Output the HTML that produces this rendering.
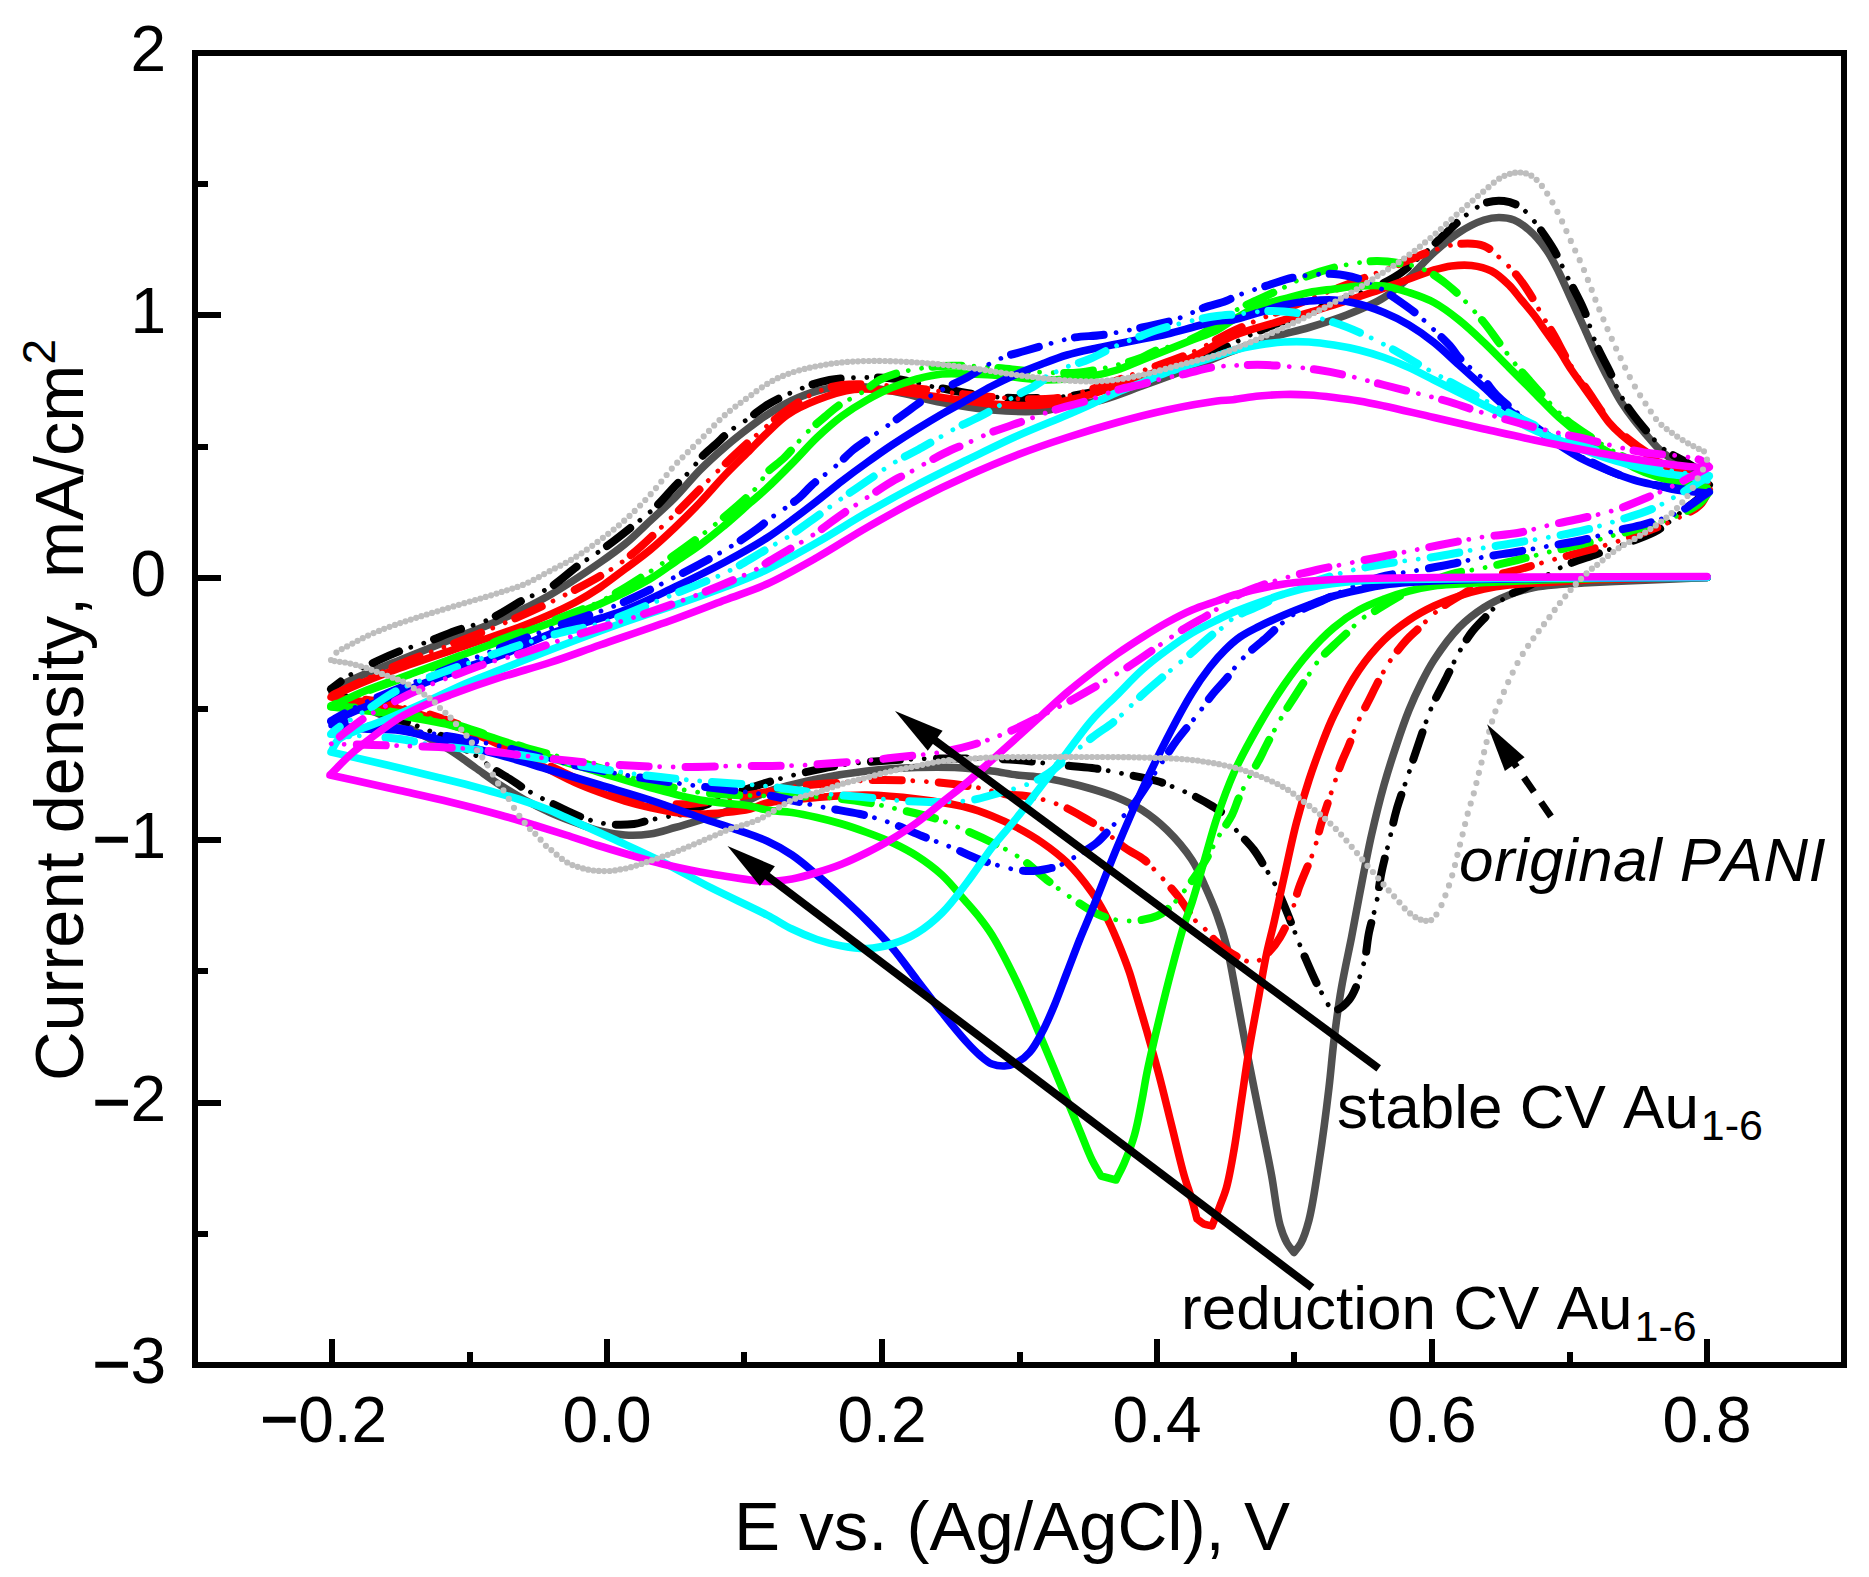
<!DOCTYPE html>
<html><head><meta charset="utf-8"><title>CV</title>
<style>html,body{margin:0;padding:0;background:#fff}svg{display:block}text{font-kerning:none;font-family:"Liberation Sans",sans-serif;fill:#000}</style></head><body>
<svg width="1869" height="1577" viewBox="0 0 1869 1577">
<rect width="1869" height="1577" fill="#fff"/>
<path d="M1707.0 577.5C1696.3 578.0 1687.3 578.5 1675.0 579.0C1658.1 579.7 1631.7 580.7 1615.0 581.5C1603.0 582.0 1593.8 582.5 1584.0 583.0C1575.2 583.5 1567.3 583.8 1559.0 584.5C1550.7 585.3 1542.3 585.8 1534.0 587.5C1525.6 589.3 1517.2 591.7 1509.0 595.0C1500.5 598.4 1492.1 602.3 1484.0 607.5C1475.4 613.0 1466.9 619.5 1459.0 627.5C1450.1 636.6 1440.6 649.9 1434.0 660.0C1428.8 668.0 1425.5 674.5 1421.5 682.5C1417.2 691.1 1413.0 700.2 1409.0 710.0C1404.6 720.9 1400.5 732.9 1396.5 745.0C1392.2 757.8 1388.0 770.9 1384.0 785.0C1379.6 800.7 1375.5 817.4 1371.5 835.0C1367.1 854.6 1362.6 879.0 1359.0 897.5C1356.1 912.3 1354.2 923.4 1351.5 937.5C1348.4 953.2 1344.4 970.6 1341.5 987.5C1338.5 1004.7 1336.1 1022.9 1334.0 1040.0C1332.0 1056.2 1331.1 1069.9 1329.0 1087.5C1326.4 1109.7 1322.6 1139.2 1319.0 1162.5C1315.9 1183.0 1312.8 1205.3 1309.0 1220.0C1306.5 1229.5 1304.1 1237.2 1301.0 1243.0C1298.9 1247.1 1296.3 1249.3 1294.0 1252.5C1291.7 1249.3 1289.1 1246.8 1287.0 1243.0C1284.3 1238.1 1282.1 1232.6 1280.0 1225.0C1276.6 1212.6 1274.7 1192.6 1271.5 1175.0C1267.9 1155.3 1263.2 1133.3 1259.0 1112.5C1254.8 1091.7 1250.6 1071.2 1246.5 1050.0C1242.3 1027.9 1237.6 1001.3 1234.0 982.5C1231.4 968.9 1229.9 958.9 1227.0 947.5C1224.2 936.4 1220.8 925.5 1217.0 915.0C1213.3 904.7 1208.8 894.5 1204.5 885.0C1200.5 876.2 1197.5 868.4 1192.0 860.0C1185.5 850.1 1175.8 838.6 1167.0 830.0C1159.0 822.2 1150.6 815.5 1142.0 810.0C1133.9 804.8 1125.5 801.0 1117.0 797.5C1108.8 794.1 1100.4 791.5 1092.0 789.0C1083.7 786.5 1075.4 784.4 1067.0 782.5C1058.7 780.6 1050.4 778.8 1042.0 777.5C1033.7 776.3 1025.3 776.1 1017.0 775.0C1008.7 773.9 1001.2 772.2 992.0 771.0C980.8 769.6 967.0 768.1 954.5 767.5C942.0 766.9 930.4 767.0 917.0 767.5C901.5 768.0 883.6 769.1 867.0 771.0C850.3 772.9 833.6 775.5 817.0 779.0C800.2 782.5 782.7 786.3 767.0 792.0C752.1 797.4 737.3 807.1 725.0 812.0C715.7 815.7 708.3 817.4 700.0 820.0C691.7 822.6 683.4 825.2 675.0 827.5C666.7 829.8 658.4 832.8 650.0 834.0C641.7 835.2 633.3 835.5 625.0 835.0C616.6 834.5 608.2 833.0 600.0 831.0C591.6 828.9 583.3 825.6 575.0 822.5C566.6 819.4 558.3 816.2 550.0 812.5C541.6 808.7 533.2 804.5 525.0 800.0C516.6 795.4 508.2 790.3 500.0 785.0C491.6 779.5 483.3 773.3 475.0 767.5C466.7 761.7 459.7 756.0 450.0 750.0C437.6 742.4 420.0 733.6 406.0 726.6C393.5 720.4 380.9 714.9 370.0 710.0C360.9 705.9 351.9 702.4 345.0 699.0C339.9 696.5 336.3 694.3 332.0 692.0C336.3 689.0 338.9 686.3 345.0 683.0C356.8 676.5 382.1 667.3 400.0 660.0C417.0 653.0 433.3 646.7 450.0 640.0C466.7 633.3 483.5 627.4 500.0 620.0C516.8 612.4 533.6 604.4 550.0 595.0C566.9 585.3 586.3 572.0 600.0 562.5C609.9 555.6 616.8 550.7 625.0 544.0C633.5 537.0 641.7 528.7 650.0 521.0C658.4 513.2 666.8 505.8 675.0 497.5C683.5 488.9 691.5 478.6 700.0 470.0C708.2 461.8 716.5 454.3 725.0 447.0C733.2 440.0 742.5 432.7 750.0 427.0C755.9 422.6 759.9 419.4 766.0 415.5C773.5 410.6 783.3 404.7 792.0 400.5C800.3 396.6 808.0 393.4 817.0 391.0C827.0 388.4 837.9 386.2 849.5 386.0C862.7 385.8 877.3 388.5 892.0 391.0C908.1 393.8 925.3 399.3 942.0 402.5C958.6 405.7 975.3 408.6 992.0 410.0C1008.6 411.4 1028.2 412.2 1042.0 411.0C1051.8 410.1 1058.0 407.7 1067.0 406.0C1077.7 404.0 1090.1 403.1 1102.0 400.0C1115.0 396.6 1127.9 391.1 1142.0 386.0C1157.8 380.3 1176.2 373.6 1192.0 367.5C1206.4 361.9 1219.5 356.1 1233.0 351.0C1246.0 346.1 1258.7 341.5 1271.5 337.5C1284.0 333.6 1296.6 331.2 1309.0 327.5C1321.6 323.7 1334.1 319.9 1346.5 315.0C1359.1 310.0 1373.1 304.3 1384.0 297.5C1393.6 291.6 1400.9 284.8 1409.0 277.5C1417.6 269.8 1425.4 260.2 1434.0 252.5C1442.1 245.2 1450.4 238.0 1459.0 232.5C1467.1 227.3 1476.6 222.4 1484.0 220.0C1489.5 218.2 1494.0 217.5 1499.0 217.5C1504.0 217.5 1509.2 218.1 1514.0 220.0C1519.2 222.1 1524.1 225.7 1529.0 230.0C1535.0 235.2 1541.5 242.9 1546.5 250.0C1551.4 257.0 1555.0 264.5 1559.0 272.5C1563.3 281.1 1567.3 290.8 1571.5 300.0C1575.7 309.2 1579.8 318.3 1584.0 327.5C1588.2 336.7 1592.2 346.1 1596.5 355.0C1600.6 363.6 1604.7 371.9 1609.0 380.0C1613.1 387.7 1617.1 395.6 1621.5 402.5C1625.5 408.8 1629.7 414.5 1634.0 420.0C1638.1 425.3 1642.3 430.1 1646.5 435.0C1650.6 439.8 1654.7 444.9 1659.0 449.0C1663.0 452.8 1666.4 455.6 1671.5 459.0C1678.2 463.5 1689.9 469.3 1696.5 472.5C1700.7 474.5 1703.5 475.5 1707.0 477.0" fill="none" stroke="#505050" stroke-width="7.6" stroke-linejoin="round" stroke-linecap="round"/>
<path d="M1709.0 485.0C1706.0 489.0 1703.9 493.0 1700.0 497.0C1694.9 502.3 1686.8 507.6 1680.0 513.0C1672.9 518.6 1666.1 525.2 1658.0 530.0C1649.5 535.0 1639.8 538.1 1630.0 542.0C1619.5 546.2 1608.0 550.0 1597.0 554.0C1586.0 558.0 1575.2 560.8 1564.0 566.0C1551.3 571.8 1535.6 582.7 1525.0 588.0C1518.0 591.5 1511.6 593.1 1507.0 596.0C1503.8 598.1 1502.3 599.9 1499.5 602.5C1495.7 606.1 1491.0 611.2 1486.5 616.0C1481.6 621.2 1476.0 626.5 1471.5 632.5C1466.8 638.7 1463.0 645.4 1459.0 652.5C1454.6 660.3 1450.9 668.8 1446.5 677.5C1441.7 687.0 1436.0 697.0 1431.5 707.5C1426.8 718.6 1422.9 731.3 1419.0 742.5C1415.4 752.9 1412.5 761.9 1409.0 772.5C1405.1 784.3 1399.8 798.4 1396.5 810.0C1393.7 819.8 1392.3 827.8 1390.0 837.5C1387.4 848.5 1383.8 861.2 1381.5 872.5C1379.4 882.8 1378.6 892.5 1376.5 902.5C1374.4 912.5 1371.1 922.5 1369.0 932.5C1366.9 942.5 1366.9 952.1 1364.0 962.5C1360.6 974.5 1355.5 992.0 1349.0 1000.0C1344.7 1005.3 1338.4 1010.8 1334.0 1010.0C1329.2 1009.1 1325.7 999.7 1321.5 992.5C1315.7 982.6 1308.9 966.3 1304.0 955.0C1300.1 945.9 1297.3 938.3 1294.0 930.0C1290.7 921.7 1287.4 913.1 1284.0 905.0C1280.7 897.3 1277.3 888.8 1274.0 882.5C1271.5 877.6 1269.3 874.6 1266.5 870.0C1262.9 864.1 1259.0 856.7 1254.0 850.0C1248.4 842.5 1239.0 833.9 1234.0 827.5C1230.6 823.1 1229.4 819.4 1226.0 816.0C1222.2 812.2 1217.2 809.3 1212.0 806.0C1206.0 802.2 1198.8 798.3 1192.0 795.0C1185.2 791.7 1177.3 788.5 1171.0 786.0C1165.9 784.0 1162.7 782.6 1157.0 781.0C1148.5 778.6 1135.3 776.2 1124.5 774.0C1113.7 771.8 1102.9 769.5 1092.0 768.0C1081.2 766.5 1071.1 766.2 1059.5 765.0C1046.3 763.6 1029.3 761.0 1017.0 760.0C1007.6 759.3 1002.6 759.2 992.0 759.0C973.7 758.6 941.3 758.1 917.0 759.0C893.9 759.9 869.7 761.4 849.5 764.0C832.9 766.2 818.2 769.4 804.5 772.5C792.7 775.1 781.7 778.2 772.0 781.0C763.9 783.3 757.1 785.6 750.0 788.0C743.2 790.3 737.2 792.3 730.0 795.0C721.5 798.2 711.7 802.7 702.5 806.0C693.4 809.3 684.0 812.6 675.0 815.0C666.5 817.2 657.4 818.3 650.0 820.0C644.1 821.3 640.1 823.3 634.0 824.0C626.3 824.9 616.1 825.1 607.5 824.0C599.0 822.9 591.2 820.6 582.5 817.5C572.2 813.8 560.1 807.5 550.0 802.5C541.0 798.0 532.2 793.3 525.0 789.0C519.3 785.6 515.0 782.2 510.0 779.0C505.0 775.9 500.3 773.5 495.0 770.0C488.7 765.8 482.2 759.8 475.0 755.0C467.3 749.8 458.9 744.6 450.0 740.0C440.6 735.2 430.8 731.4 420.0 727.0C407.7 722.0 392.8 717.2 380.0 712.0C367.9 707.1 353.9 701.5 345.0 697.0C339.2 694.1 335.7 691.7 331.0 689.0C337.3 684.3 342.9 679.4 350.0 675.0C358.0 670.0 368.3 665.1 377.0 661.0C384.9 657.2 392.0 654.1 400.0 651.0C408.6 647.7 418.0 645.3 427.0 642.0C436.3 638.6 445.1 634.6 455.0 631.0C466.0 627.0 478.6 624.2 490.0 619.0C501.9 613.6 514.2 604.6 525.0 599.0C533.9 594.4 541.6 592.6 550.0 587.5C559.6 581.6 569.5 571.9 579.0 565.0C587.8 558.6 596.2 553.9 605.0 547.5C614.5 540.6 625.2 532.1 634.0 525.0C641.6 518.9 648.3 513.9 655.0 507.5C662.0 500.9 668.8 492.5 675.0 486.0C680.3 480.5 685.3 476.1 690.0 471.0C694.5 466.1 698.1 460.6 702.5 456.0C706.8 451.6 711.5 448.1 716.0 444.0C720.6 439.8 724.7 435.2 730.0 431.0C735.9 426.3 743.6 422.0 750.0 417.5C755.9 413.3 760.2 409.1 767.0 405.0C776.0 399.6 789.1 393.3 800.0 389.0C810.0 385.1 819.0 381.9 829.5 380.0C841.1 377.9 855.2 377.6 867.0 377.5C877.6 377.4 886.3 377.6 897.0 379.0C909.4 380.6 922.0 384.8 937.0 387.5C956.0 391.0 980.1 396.1 1002.0 397.5C1024.2 399.0 1049.9 398.1 1069.5 396.0C1084.8 394.3 1096.6 391.5 1110.0 388.0C1123.5 384.5 1136.7 379.6 1150.0 375.0C1163.4 370.3 1177.1 364.7 1190.0 360.0C1201.9 355.6 1213.1 352.3 1224.5 347.5C1236.1 342.6 1246.9 336.2 1259.0 331.0C1272.0 325.4 1285.6 320.4 1300.0 315.0C1315.8 309.1 1334.0 303.4 1350.0 297.0C1365.2 290.9 1381.6 285.0 1394.0 277.5C1404.3 271.3 1411.6 264.1 1420.0 257.0C1428.3 249.9 1436.9 241.5 1444.0 235.0C1449.6 229.8 1454.0 225.3 1459.0 221.0C1463.7 217.0 1468.2 213.2 1473.0 210.0C1477.4 207.1 1481.5 204.0 1486.5 202.5C1491.8 200.9 1498.5 200.3 1504.0 201.0C1509.3 201.6 1514.8 203.6 1519.0 206.0C1522.6 208.1 1524.8 210.7 1528.0 214.0C1532.2 218.5 1537.2 225.1 1541.5 231.0C1545.9 237.1 1549.9 242.8 1554.0 250.0C1559.0 258.7 1564.0 270.0 1569.0 280.0C1574.0 290.0 1579.5 299.5 1584.0 310.0C1588.7 321.1 1592.0 334.4 1596.5 345.0C1600.4 354.2 1604.7 361.2 1609.0 370.0C1613.8 379.8 1618.3 391.6 1624.0 401.0C1629.3 409.8 1635.0 417.1 1641.5 425.0C1648.5 433.5 1657.1 443.7 1665.0 450.0C1671.3 455.0 1678.0 457.2 1684.0 461.0C1689.6 464.6 1695.7 467.7 1700.0 472.0C1703.9 475.8 1706.0 480.7 1709.0 485.0" fill="none" stroke="#000000" stroke-width="8" stroke-linecap="round" stroke-linejoin="round" stroke-dasharray="29 37" stroke-dashoffset="0"/>
<path d="M1709.0 485.0C1706.0 489.0 1703.9 493.0 1700.0 497.0C1694.9 502.3 1686.8 507.6 1680.0 513.0C1672.9 518.6 1666.1 525.2 1658.0 530.0C1649.5 535.0 1639.8 538.1 1630.0 542.0C1619.5 546.2 1608.0 550.0 1597.0 554.0C1586.0 558.0 1575.2 560.8 1564.0 566.0C1551.3 571.8 1535.6 582.7 1525.0 588.0C1518.0 591.5 1511.6 593.1 1507.0 596.0C1503.8 598.1 1502.3 599.9 1499.5 602.5C1495.7 606.1 1491.0 611.2 1486.5 616.0C1481.6 621.2 1476.0 626.5 1471.5 632.5C1466.8 638.7 1463.0 645.4 1459.0 652.5C1454.6 660.3 1450.9 668.8 1446.5 677.5C1441.7 687.0 1436.0 697.0 1431.5 707.5C1426.8 718.6 1422.9 731.3 1419.0 742.5C1415.4 752.9 1412.5 761.9 1409.0 772.5C1405.1 784.3 1399.8 798.4 1396.5 810.0C1393.7 819.8 1392.3 827.8 1390.0 837.5C1387.4 848.5 1383.8 861.2 1381.5 872.5C1379.4 882.8 1378.6 892.5 1376.5 902.5C1374.4 912.5 1371.1 922.5 1369.0 932.5C1366.9 942.5 1366.9 952.1 1364.0 962.5C1360.6 974.5 1355.5 992.0 1349.0 1000.0C1344.7 1005.3 1338.4 1010.8 1334.0 1010.0C1329.2 1009.1 1325.7 999.7 1321.5 992.5C1315.7 982.6 1308.9 966.3 1304.0 955.0C1300.1 945.9 1297.3 938.3 1294.0 930.0C1290.7 921.7 1287.4 913.1 1284.0 905.0C1280.7 897.3 1277.3 888.8 1274.0 882.5C1271.5 877.6 1269.3 874.6 1266.5 870.0C1262.9 864.1 1259.0 856.7 1254.0 850.0C1248.4 842.5 1239.0 833.9 1234.0 827.5C1230.6 823.1 1229.4 819.4 1226.0 816.0C1222.2 812.2 1217.2 809.3 1212.0 806.0C1206.0 802.2 1198.8 798.3 1192.0 795.0C1185.2 791.7 1177.3 788.5 1171.0 786.0C1165.9 784.0 1162.7 782.6 1157.0 781.0C1148.5 778.6 1135.3 776.2 1124.5 774.0C1113.7 771.8 1102.9 769.5 1092.0 768.0C1081.2 766.5 1071.1 766.2 1059.5 765.0C1046.3 763.6 1029.3 761.0 1017.0 760.0C1007.6 759.3 1002.6 759.2 992.0 759.0C973.7 758.6 941.3 758.1 917.0 759.0C893.9 759.9 869.7 761.4 849.5 764.0C832.9 766.2 818.2 769.4 804.5 772.5C792.7 775.1 781.7 778.2 772.0 781.0C763.9 783.3 757.1 785.6 750.0 788.0C743.2 790.3 737.2 792.3 730.0 795.0C721.5 798.2 711.7 802.7 702.5 806.0C693.4 809.3 684.0 812.6 675.0 815.0C666.5 817.2 657.4 818.3 650.0 820.0C644.1 821.3 640.1 823.3 634.0 824.0C626.3 824.9 616.1 825.1 607.5 824.0C599.0 822.9 591.2 820.6 582.5 817.5C572.2 813.8 560.1 807.5 550.0 802.5C541.0 798.0 532.2 793.3 525.0 789.0C519.3 785.6 515.0 782.2 510.0 779.0C505.0 775.9 500.3 773.5 495.0 770.0C488.7 765.8 482.2 759.8 475.0 755.0C467.3 749.8 458.9 744.6 450.0 740.0C440.6 735.2 430.8 731.4 420.0 727.0C407.7 722.0 392.8 717.2 380.0 712.0C367.9 707.1 353.9 701.5 345.0 697.0C339.2 694.1 335.7 691.7 331.0 689.0C337.3 684.3 342.9 679.4 350.0 675.0C358.0 670.0 368.3 665.1 377.0 661.0C384.9 657.2 392.0 654.1 400.0 651.0C408.6 647.7 418.0 645.3 427.0 642.0C436.3 638.6 445.1 634.6 455.0 631.0C466.0 627.0 478.6 624.2 490.0 619.0C501.9 613.6 514.2 604.6 525.0 599.0C533.9 594.4 541.6 592.6 550.0 587.5C559.6 581.6 569.5 571.9 579.0 565.0C587.8 558.6 596.2 553.9 605.0 547.5C614.5 540.6 625.2 532.1 634.0 525.0C641.6 518.9 648.3 513.9 655.0 507.5C662.0 500.9 668.8 492.5 675.0 486.0C680.3 480.5 685.3 476.1 690.0 471.0C694.5 466.1 698.1 460.6 702.5 456.0C706.8 451.6 711.5 448.1 716.0 444.0C720.6 439.8 724.7 435.2 730.0 431.0C735.9 426.3 743.6 422.0 750.0 417.5C755.9 413.3 760.2 409.1 767.0 405.0C776.0 399.6 789.1 393.3 800.0 389.0C810.0 385.1 819.0 381.9 829.5 380.0C841.1 377.9 855.2 377.6 867.0 377.5C877.6 377.4 886.3 377.6 897.0 379.0C909.4 380.6 922.0 384.8 937.0 387.5C956.0 391.0 980.1 396.1 1002.0 397.5C1024.2 399.0 1049.9 398.1 1069.5 396.0C1084.8 394.3 1096.6 391.5 1110.0 388.0C1123.5 384.5 1136.7 379.6 1150.0 375.0C1163.4 370.3 1177.1 364.7 1190.0 360.0C1201.9 355.6 1213.1 352.3 1224.5 347.5C1236.1 342.6 1246.9 336.2 1259.0 331.0C1272.0 325.4 1285.6 320.4 1300.0 315.0C1315.8 309.1 1334.0 303.4 1350.0 297.0C1365.2 290.9 1381.6 285.0 1394.0 277.5C1404.3 271.3 1411.6 264.1 1420.0 257.0C1428.3 249.9 1436.9 241.5 1444.0 235.0C1449.6 229.8 1454.0 225.3 1459.0 221.0C1463.7 217.0 1468.2 213.2 1473.0 210.0C1477.4 207.1 1481.5 204.0 1486.5 202.5C1491.8 200.9 1498.5 200.3 1504.0 201.0C1509.3 201.6 1514.8 203.6 1519.0 206.0C1522.6 208.1 1524.8 210.7 1528.0 214.0C1532.2 218.5 1537.2 225.1 1541.5 231.0C1545.9 237.1 1549.9 242.8 1554.0 250.0C1559.0 258.7 1564.0 270.0 1569.0 280.0C1574.0 290.0 1579.5 299.5 1584.0 310.0C1588.7 321.1 1592.0 334.4 1596.5 345.0C1600.4 354.2 1604.7 361.2 1609.0 370.0C1613.8 379.8 1618.3 391.6 1624.0 401.0C1629.3 409.8 1635.0 417.1 1641.5 425.0C1648.5 433.5 1657.1 443.7 1665.0 450.0C1671.3 455.0 1678.0 457.2 1684.0 461.0C1689.6 464.6 1695.7 467.7 1700.0 472.0C1703.9 475.8 1706.0 480.7 1709.0 485.0" fill="none" stroke="#000000" stroke-width="4.8" stroke-linecap="round" stroke-dasharray="0.01 13.5 0.01 52.48" stroke-dashoffset="-41.5"/>
<path d="M1707.0 577.5C1671.3 578.2 1628.1 578.5 1600.0 579.5C1581.8 580.2 1570.1 581.1 1555.0 582.0C1539.7 582.9 1522.0 583.5 1509.0 585.0C1499.4 586.1 1492.3 587.2 1484.0 589.0C1475.6 590.8 1467.3 593.2 1459.0 596.0C1450.6 598.9 1442.2 602.1 1434.0 606.0C1425.5 610.0 1417.1 614.5 1409.0 620.0C1400.4 625.8 1392.0 632.2 1384.0 640.0C1375.2 648.6 1366.8 658.6 1359.0 670.0C1350.0 683.1 1340.6 701.3 1334.0 715.0C1328.7 725.8 1325.5 734.6 1321.5 745.0C1317.2 756.2 1313.0 767.7 1309.0 780.0C1304.6 793.4 1300.4 807.4 1296.5 822.5C1292.0 839.6 1287.9 860.1 1284.0 877.5C1280.5 893.2 1277.1 908.8 1274.0 922.5C1271.4 933.9 1268.9 942.8 1266.5 954.0C1263.8 966.7 1261.7 980.3 1259.0 995.0C1255.9 1012.0 1252.0 1032.1 1249.0 1050.0C1246.2 1067.0 1244.0 1083.3 1241.5 1100.0C1239.0 1116.7 1236.7 1134.6 1234.0 1150.0C1231.7 1163.4 1229.4 1177.1 1226.5 1187.5C1224.4 1195.1 1221.9 1200.6 1219.5 1207.0C1217.1 1213.4 1214.5 1219.7 1212.0 1226.0C1209.3 1225.3 1206.5 1225.1 1204.0 1224.0C1201.5 1222.8 1199.3 1220.7 1197.0 1219.0C1195.3 1212.7 1194.0 1206.7 1192.0 1200.0C1189.7 1192.2 1186.8 1184.8 1184.0 1175.0C1180.1 1161.2 1175.7 1141.7 1171.5 1125.0C1167.3 1108.3 1163.3 1091.2 1159.0 1075.0C1154.9 1059.6 1150.7 1044.8 1146.5 1030.0C1142.4 1015.6 1137.1 998.1 1134.0 987.5C1132.1 981.2 1131.5 978.4 1129.5 972.5C1126.5 963.7 1121.3 950.3 1117.0 940.0C1113.0 930.5 1108.9 921.3 1104.5 913.0C1100.5 905.6 1097.2 899.8 1092.0 892.5C1085.4 883.2 1075.8 871.1 1067.0 862.5C1059.0 854.7 1050.5 848.4 1042.0 842.5C1033.9 836.8 1025.5 832.0 1017.0 827.5C1008.8 823.2 1000.4 819.4 992.0 816.0C983.8 812.7 976.9 810.0 967.0 807.5C953.3 804.0 933.7 801.1 917.0 799.0C900.4 796.9 883.7 795.2 867.0 795.0C850.3 794.8 833.6 796.2 817.0 797.5C800.3 798.8 779.2 800.2 767.0 803.0C759.7 804.7 756.3 807.5 750.0 809.0C742.5 810.8 733.3 811.7 725.0 812.5C716.7 813.3 708.3 814.0 700.0 814.0C691.7 814.0 683.3 813.6 675.0 812.5C666.6 811.4 658.3 809.4 650.0 807.5C641.6 805.6 633.3 803.5 625.0 801.0C616.6 798.5 608.3 795.6 600.0 792.5C591.6 789.4 583.3 786.2 575.0 782.5C566.6 778.7 559.8 774.9 550.0 770.0C536.2 763.1 515.3 752.1 500.0 745.0C487.4 739.2 477.1 734.7 465.0 730.0C452.2 725.0 435.7 719.4 425.0 716.0C418.0 713.8 414.5 712.7 407.5 711.0C397.4 708.5 381.3 705.1 370.0 703.0C360.8 701.3 352.1 700.1 345.0 699.0C339.7 698.2 335.7 697.7 331.0 697.0C337.3 694.0 342.1 691.4 350.0 688.0C362.6 682.5 381.6 674.8 400.0 668.0C422.4 659.7 452.5 650.2 475.0 642.5C493.4 636.2 508.5 631.6 525.0 625.0C541.8 618.3 561.4 609.6 575.0 602.5C584.9 597.3 591.8 593.0 600.0 587.5C608.5 581.8 616.7 575.2 625.0 569.0C633.4 562.7 641.8 556.8 650.0 550.0C658.5 543.0 666.8 535.3 675.0 527.5C683.4 519.5 691.8 511.1 700.0 502.5C708.4 493.6 716.6 483.9 725.0 475.0C733.2 466.4 742.5 457.5 750.0 450.0C756.2 443.8 761.0 438.7 767.0 433.0C773.3 427.0 779.3 420.3 787.0 415.0C795.7 409.1 806.3 404.2 817.0 400.0C828.5 395.5 841.5 391.0 854.0 389.5C866.5 388.0 878.5 389.9 892.0 391.0C907.6 392.3 925.3 395.3 942.0 397.5C958.7 399.7 975.3 402.8 992.0 404.0C1008.6 405.2 1026.6 406.4 1042.0 405.0C1055.5 403.8 1067.1 400.6 1079.5 397.5C1092.1 394.3 1104.5 390.1 1117.0 386.0C1129.6 381.8 1142.0 377.2 1154.5 372.5C1167.0 367.7 1179.4 363.3 1192.0 357.5C1205.5 351.3 1218.3 342.1 1233.0 336.0C1248.8 329.4 1267.1 325.2 1284.0 320.0C1300.7 314.9 1318.6 309.9 1334.0 305.0C1347.4 300.7 1359.0 296.8 1371.5 292.5C1384.0 288.2 1397.8 283.0 1409.0 279.0C1418.2 275.7 1426.3 272.2 1434.0 270.0C1440.3 268.2 1445.4 266.8 1451.5 266.0C1457.9 265.2 1464.9 264.7 1471.5 265.5C1478.2 266.3 1485.4 267.9 1491.5 271.0C1497.9 274.3 1503.9 280.0 1509.0 285.0C1513.8 289.7 1517.3 295.0 1521.5 300.0C1525.7 305.0 1529.9 309.7 1534.0 315.0C1538.3 320.5 1542.3 326.7 1546.5 332.5C1550.7 338.3 1554.9 343.9 1559.0 350.0C1563.3 356.4 1567.2 363.6 1571.5 370.0C1575.6 376.1 1579.8 381.7 1584.0 387.5C1588.2 393.3 1592.3 399.2 1596.5 405.0C1600.7 410.8 1604.6 417.3 1609.0 422.5C1613.0 427.2 1617.2 431.2 1621.5 435.0C1625.6 438.6 1629.0 441.3 1634.0 445.0C1640.8 450.1 1650.5 457.4 1659.0 462.5C1667.2 467.4 1675.7 471.5 1684.0 475.0C1691.7 478.3 1699.3 480.3 1707.0 483.0" fill="none" stroke="#ff0000" stroke-width="7.6" stroke-linejoin="round" stroke-linecap="round"/>
<path d="M1709.0 490.0C1706.0 495.0 1704.4 500.6 1700.0 505.0C1694.7 510.3 1685.9 514.0 1678.0 518.0C1669.4 522.4 1659.9 526.2 1650.0 530.0C1639.3 534.2 1627.1 538.4 1616.0 542.0C1605.5 545.4 1595.5 548.0 1585.0 551.0C1574.2 554.0 1562.9 557.0 1552.0 560.0C1541.4 563.0 1530.5 566.2 1520.5 569.0C1511.6 571.5 1503.3 572.6 1495.0 576.0C1486.4 579.5 1478.6 585.0 1470.0 590.0C1460.8 595.4 1450.3 600.9 1441.5 607.5C1433.0 613.9 1424.4 623.0 1418.0 629.0C1413.5 633.2 1410.6 635.5 1406.5 640.0C1401.1 646.0 1394.1 654.8 1389.0 662.5C1384.2 669.8 1380.1 678.2 1376.5 685.0C1373.6 690.5 1371.8 694.4 1369.0 700.0C1365.4 707.3 1360.0 717.0 1356.5 725.0C1353.5 732.0 1351.6 738.6 1349.0 745.0C1346.6 751.1 1344.0 756.1 1341.5 762.5C1338.6 770.0 1336.0 778.5 1333.0 787.5C1329.4 798.2 1324.8 811.5 1321.5 822.5C1318.6 832.2 1317.3 840.2 1314.0 850.0C1310.1 861.6 1303.0 876.2 1299.0 887.5C1295.8 896.6 1294.6 904.3 1291.5 912.5C1288.3 920.9 1284.2 930.5 1280.0 937.5C1276.6 943.2 1273.3 947.8 1269.0 952.0C1264.7 956.2 1259.1 961.7 1254.0 962.5C1249.4 963.2 1244.5 960.0 1240.0 958.0C1235.3 955.9 1230.8 953.0 1226.5 950.0C1222.3 947.0 1218.2 943.6 1214.5 940.0C1210.7 936.3 1207.3 931.1 1204.0 928.0C1201.5 925.7 1199.7 925.3 1197.0 922.5C1191.7 917.0 1183.9 903.6 1177.0 895.0C1170.5 887.0 1163.0 878.8 1157.0 872.5C1152.4 867.6 1149.4 863.9 1144.5 860.0C1138.8 855.5 1131.2 852.3 1124.5 847.5C1117.0 842.1 1108.7 833.9 1102.0 829.0C1096.9 825.3 1093.5 823.2 1088.0 820.0C1080.7 815.7 1071.2 809.8 1062.0 806.0C1052.5 802.1 1041.9 799.0 1032.0 797.0C1022.7 795.1 1013.6 795.6 1004.5 794.0C995.3 792.4 987.3 789.3 977.0 787.5C963.9 785.2 947.8 783.2 932.0 782.0C914.6 780.6 893.3 779.7 877.0 780.0C864.0 780.2 854.2 781.6 842.0 782.5C828.5 783.5 812.7 784.2 799.5 786.0C787.9 787.5 777.6 790.1 767.0 792.0C756.8 793.8 748.1 795.2 737.0 797.0C723.1 799.2 705.1 803.3 690.0 804.0C676.2 804.7 661.7 803.7 650.0 802.0C640.6 800.7 633.3 798.3 625.0 796.0C616.6 793.7 608.3 791.0 600.0 788.0C591.6 785.0 583.3 781.6 575.0 778.0C566.6 774.3 559.8 770.7 550.0 766.0C536.2 759.4 515.3 748.9 500.0 742.0C487.4 736.3 477.1 731.7 465.0 727.0C452.2 722.0 438.8 717.1 425.0 713.0C410.5 708.7 395.4 704.8 380.0 702.0C364.1 699.1 347.3 698.0 331.0 696.0C340.7 691.3 349.5 686.9 360.0 682.0C372.2 676.3 385.8 669.9 400.0 664.0C415.6 657.5 432.8 651.7 450.0 645.0C468.4 637.8 488.0 630.2 507.0 622.0C526.4 613.6 546.0 604.9 565.0 595.0C584.3 584.9 604.2 574.9 622.0 562.0C639.9 549.0 655.5 532.6 672.0 517.0C688.9 501.0 706.3 482.0 722.0 467.0C735.4 454.1 747.9 442.4 760.0 432.0C770.4 423.0 780.0 414.9 790.0 408.0C799.0 401.8 807.9 395.9 817.0 392.0C825.3 388.5 832.7 386.3 842.0 385.0C853.3 383.5 867.4 384.4 880.0 385.0C892.4 385.6 902.5 387.0 917.0 388.5C937.6 390.6 968.2 395.4 992.0 397.0C1013.6 398.5 1036.0 400.5 1054.0 398.5C1068.3 396.9 1078.6 393.1 1092.0 389.0C1107.6 384.2 1125.3 377.1 1142.0 371.0C1158.7 364.9 1176.4 359.5 1192.0 352.5C1206.6 346.0 1217.5 338.3 1233.0 331.0C1252.4 321.9 1278.3 311.8 1300.0 303.0C1320.2 294.8 1340.2 287.4 1359.0 280.0C1376.4 273.1 1395.6 265.4 1409.0 260.0C1418.0 256.4 1423.5 253.6 1431.5 251.0C1440.1 248.2 1450.0 244.8 1459.0 244.0C1467.5 243.3 1476.9 243.3 1484.0 246.0C1490.3 248.4 1494.8 253.4 1500.0 258.0C1505.7 263.0 1511.6 269.1 1516.5 275.0C1521.2 280.6 1525.0 286.3 1529.0 292.5C1533.3 299.2 1537.3 306.9 1541.5 314.0C1545.6 321.1 1549.7 327.5 1554.0 335.0C1558.8 343.5 1563.4 353.3 1569.0 362.5C1575.0 372.4 1582.3 382.7 1589.0 392.5C1595.6 402.2 1602.1 413.1 1609.0 421.0C1614.7 427.6 1619.5 431.8 1626.5 437.5C1635.7 445.0 1648.9 454.4 1660.0 461.0C1670.1 467.0 1681.3 470.7 1690.0 476.0C1697.3 480.5 1702.7 485.3 1709.0 490.0" fill="none" stroke="#ff0000" stroke-width="8" stroke-linecap="round" stroke-linejoin="round" stroke-dasharray="29 37" stroke-dashoffset="0"/>
<path d="M1709.0 490.0C1706.0 495.0 1704.4 500.6 1700.0 505.0C1694.7 510.3 1685.9 514.0 1678.0 518.0C1669.4 522.4 1659.9 526.2 1650.0 530.0C1639.3 534.2 1627.1 538.4 1616.0 542.0C1605.5 545.4 1595.5 548.0 1585.0 551.0C1574.2 554.0 1562.9 557.0 1552.0 560.0C1541.4 563.0 1530.5 566.2 1520.5 569.0C1511.6 571.5 1503.3 572.6 1495.0 576.0C1486.4 579.5 1478.6 585.0 1470.0 590.0C1460.8 595.4 1450.3 600.9 1441.5 607.5C1433.0 613.9 1424.4 623.0 1418.0 629.0C1413.5 633.2 1410.6 635.5 1406.5 640.0C1401.1 646.0 1394.1 654.8 1389.0 662.5C1384.2 669.8 1380.1 678.2 1376.5 685.0C1373.6 690.5 1371.8 694.4 1369.0 700.0C1365.4 707.3 1360.0 717.0 1356.5 725.0C1353.5 732.0 1351.6 738.6 1349.0 745.0C1346.6 751.1 1344.0 756.1 1341.5 762.5C1338.6 770.0 1336.0 778.5 1333.0 787.5C1329.4 798.2 1324.8 811.5 1321.5 822.5C1318.6 832.2 1317.3 840.2 1314.0 850.0C1310.1 861.6 1303.0 876.2 1299.0 887.5C1295.8 896.6 1294.6 904.3 1291.5 912.5C1288.3 920.9 1284.2 930.5 1280.0 937.5C1276.6 943.2 1273.3 947.8 1269.0 952.0C1264.7 956.2 1259.1 961.7 1254.0 962.5C1249.4 963.2 1244.5 960.0 1240.0 958.0C1235.3 955.9 1230.8 953.0 1226.5 950.0C1222.3 947.0 1218.2 943.6 1214.5 940.0C1210.7 936.3 1207.3 931.1 1204.0 928.0C1201.5 925.7 1199.7 925.3 1197.0 922.5C1191.7 917.0 1183.9 903.6 1177.0 895.0C1170.5 887.0 1163.0 878.8 1157.0 872.5C1152.4 867.6 1149.4 863.9 1144.5 860.0C1138.8 855.5 1131.2 852.3 1124.5 847.5C1117.0 842.1 1108.7 833.9 1102.0 829.0C1096.9 825.3 1093.5 823.2 1088.0 820.0C1080.7 815.7 1071.2 809.8 1062.0 806.0C1052.5 802.1 1041.9 799.0 1032.0 797.0C1022.7 795.1 1013.6 795.6 1004.5 794.0C995.3 792.4 987.3 789.3 977.0 787.5C963.9 785.2 947.8 783.2 932.0 782.0C914.6 780.6 893.3 779.7 877.0 780.0C864.0 780.2 854.2 781.6 842.0 782.5C828.5 783.5 812.7 784.2 799.5 786.0C787.9 787.5 777.6 790.1 767.0 792.0C756.8 793.8 748.1 795.2 737.0 797.0C723.1 799.2 705.1 803.3 690.0 804.0C676.2 804.7 661.7 803.7 650.0 802.0C640.6 800.7 633.3 798.3 625.0 796.0C616.6 793.7 608.3 791.0 600.0 788.0C591.6 785.0 583.3 781.6 575.0 778.0C566.6 774.3 559.8 770.7 550.0 766.0C536.2 759.4 515.3 748.9 500.0 742.0C487.4 736.3 477.1 731.7 465.0 727.0C452.2 722.0 438.8 717.1 425.0 713.0C410.5 708.7 395.4 704.8 380.0 702.0C364.1 699.1 347.3 698.0 331.0 696.0C340.7 691.3 349.5 686.9 360.0 682.0C372.2 676.3 385.8 669.9 400.0 664.0C415.6 657.5 432.8 651.7 450.0 645.0C468.4 637.8 488.0 630.2 507.0 622.0C526.4 613.6 546.0 604.9 565.0 595.0C584.3 584.9 604.2 574.9 622.0 562.0C639.9 549.0 655.5 532.6 672.0 517.0C688.9 501.0 706.3 482.0 722.0 467.0C735.4 454.1 747.9 442.4 760.0 432.0C770.4 423.0 780.0 414.9 790.0 408.0C799.0 401.8 807.9 395.9 817.0 392.0C825.3 388.5 832.7 386.3 842.0 385.0C853.3 383.5 867.4 384.4 880.0 385.0C892.4 385.6 902.5 387.0 917.0 388.5C937.6 390.6 968.2 395.4 992.0 397.0C1013.6 398.5 1036.0 400.5 1054.0 398.5C1068.3 396.9 1078.6 393.1 1092.0 389.0C1107.6 384.2 1125.3 377.1 1142.0 371.0C1158.7 364.9 1176.4 359.5 1192.0 352.5C1206.6 346.0 1217.5 338.3 1233.0 331.0C1252.4 321.9 1278.3 311.8 1300.0 303.0C1320.2 294.8 1340.2 287.4 1359.0 280.0C1376.4 273.1 1395.6 265.4 1409.0 260.0C1418.0 256.4 1423.5 253.6 1431.5 251.0C1440.1 248.2 1450.0 244.8 1459.0 244.0C1467.5 243.3 1476.9 243.3 1484.0 246.0C1490.3 248.4 1494.8 253.4 1500.0 258.0C1505.7 263.0 1511.6 269.1 1516.5 275.0C1521.2 280.6 1525.0 286.3 1529.0 292.5C1533.3 299.2 1537.3 306.9 1541.5 314.0C1545.6 321.1 1549.7 327.5 1554.0 335.0C1558.8 343.5 1563.4 353.3 1569.0 362.5C1575.0 372.4 1582.3 382.7 1589.0 392.5C1595.6 402.2 1602.1 413.1 1609.0 421.0C1614.7 427.6 1619.5 431.8 1626.5 437.5C1635.7 445.0 1648.9 454.4 1660.0 461.0C1670.1 467.0 1681.3 470.7 1690.0 476.0C1697.3 480.5 1702.7 485.3 1709.0 490.0" fill="none" stroke="#ff0000" stroke-width="4.8" stroke-linecap="round" stroke-dasharray="0.01 13.5 0.01 52.48" stroke-dashoffset="-41.5"/>
<path d="M1707.0 577.5C1671.3 577.8 1633.1 577.8 1600.0 578.5C1571.4 579.1 1544.9 580.0 1520.0 581.0C1498.3 581.9 1474.9 583.0 1459.0 584.0C1448.8 584.7 1442.3 584.8 1434.0 586.0C1425.6 587.2 1417.3 588.9 1409.0 591.0C1400.6 593.2 1392.3 595.9 1384.0 599.0C1375.6 602.2 1367.1 605.4 1359.0 610.0C1350.4 614.8 1342.0 620.7 1334.0 627.5C1325.3 634.8 1317.0 643.3 1309.0 652.5C1300.3 662.4 1292.1 673.4 1284.0 685.0C1275.4 697.4 1267.1 710.9 1259.0 725.0C1250.4 740.0 1241.1 756.7 1234.0 772.5C1227.3 787.5 1222.0 802.6 1217.0 817.5C1212.2 831.8 1208.7 845.8 1204.5 860.0C1200.3 874.2 1195.9 890.6 1192.0 902.5C1189.2 911.2 1186.8 916.2 1184.0 925.0C1180.1 937.4 1175.6 954.6 1171.5 970.0C1167.2 986.2 1163.1 1002.9 1159.0 1020.0C1154.7 1037.9 1149.5 1060.2 1146.5 1075.0C1144.5 1084.9 1143.8 1091.0 1142.0 1100.0C1139.9 1110.7 1137.6 1124.1 1134.5 1135.0C1131.7 1144.8 1127.9 1154.4 1124.5 1162.5C1121.7 1169.1 1118.8 1174.2 1116.0 1180.0L1101.0 1176.0C1098.0 1170.7 1095.1 1166.3 1092.0 1160.0C1087.9 1151.7 1083.7 1140.0 1079.5 1130.0C1075.3 1120.0 1071.9 1111.7 1067.0 1100.0C1060.1 1083.4 1050.4 1059.8 1042.0 1040.0C1033.7 1020.6 1025.7 1000.6 1017.0 982.5C1009.0 965.8 999.3 946.8 992.0 935.0C987.4 927.5 984.0 923.2 979.5 917.5C974.8 911.6 970.0 906.3 964.5 900.0C957.8 892.4 950.1 882.4 942.0 875.0C934.2 867.8 925.6 861.5 917.0 856.0C908.9 850.8 900.4 846.5 892.0 842.5C883.8 838.7 875.4 835.6 867.0 832.5C858.7 829.4 850.4 826.5 842.0 824.0C833.7 821.5 825.4 819.4 817.0 817.5C808.7 815.6 800.4 813.8 792.0 812.5C783.7 811.3 774.5 811.3 767.0 810.0C760.8 809.0 757.2 807.3 750.0 806.0C737.8 803.8 716.6 803.1 700.0 800.0C683.2 796.9 666.6 792.1 650.0 787.5C633.3 782.9 616.7 777.5 600.0 772.5C583.3 767.5 566.6 762.9 550.0 757.5C533.3 752.1 516.7 745.4 500.0 740.0C483.4 734.6 463.9 728.5 450.0 725.0C440.3 722.6 434.0 721.7 425.0 720.0C414.3 718.0 402.1 715.8 390.0 714.0C377.1 712.1 360.9 710.3 350.0 709.0C342.5 708.1 337.3 707.7 331.0 707.0C340.7 702.3 349.4 697.5 360.0 693.0C372.2 687.8 385.2 683.5 400.0 678.0C418.4 671.1 439.5 663.3 462.0 655.0C488.8 645.2 524.8 632.4 550.0 623.0C569.0 615.9 583.5 611.2 600.0 604.0C616.9 596.6 636.4 587.0 650.0 579.0C660.0 573.1 666.7 567.7 675.0 562.0C683.3 556.3 691.8 551.1 700.0 545.0C708.5 538.8 716.7 531.9 725.0 525.0C733.4 517.9 742.6 509.5 750.0 503.0C755.9 497.8 760.1 494.5 766.0 489.0C773.7 481.9 783.5 472.1 792.0 463.5C800.5 454.9 808.5 445.6 817.0 437.5C825.2 429.8 833.4 422.4 842.0 416.0C850.1 410.0 858.5 404.8 867.0 400.0C875.2 395.3 883.5 391.0 892.0 387.5C900.2 384.1 908.6 381.3 917.0 379.0C925.3 376.8 933.6 374.8 942.0 374.0C950.3 373.2 958.7 373.8 967.0 374.0C975.3 374.2 983.7 374.4 992.0 375.0C1000.3 375.6 1008.7 376.7 1017.0 377.5C1025.3 378.3 1033.7 379.8 1042.0 380.0C1050.3 380.2 1058.7 379.7 1067.0 379.0C1075.3 378.3 1083.7 377.5 1092.0 376.0C1100.4 374.5 1108.8 372.6 1117.0 370.0C1125.4 367.3 1133.7 363.3 1142.0 360.0C1150.3 356.7 1158.7 353.3 1167.0 350.0C1175.3 346.7 1183.7 343.3 1192.0 340.0C1200.3 336.7 1209.7 333.7 1217.0 330.0C1223.1 326.9 1227.0 323.5 1233.0 320.0C1240.6 315.6 1250.2 309.5 1259.0 306.0C1267.2 302.7 1275.7 301.3 1284.0 299.0C1292.3 296.8 1300.6 294.2 1309.0 292.5C1317.3 290.8 1325.7 290.1 1334.0 289.0C1342.3 287.9 1350.7 286.5 1359.0 286.0C1367.3 285.5 1375.7 284.9 1384.0 286.0C1392.4 287.1 1400.8 289.8 1409.0 292.5C1417.4 295.3 1425.9 298.1 1434.0 302.5C1442.6 307.2 1450.9 313.5 1459.0 320.0C1467.5 326.8 1475.8 334.7 1484.0 342.5C1492.4 350.5 1500.7 359.2 1509.0 367.5C1517.3 375.8 1525.7 384.2 1534.0 392.5C1542.3 400.8 1550.4 409.8 1559.0 417.5C1567.1 424.8 1575.5 431.6 1584.0 437.5C1592.1 443.2 1600.7 447.5 1609.0 452.5C1617.3 457.5 1625.5 463.3 1634.0 467.5C1642.2 471.6 1650.1 474.7 1659.0 477.5C1668.7 480.6 1681.2 483.2 1690.0 485.0C1696.5 486.4 1701.3 487.0 1707.0 488.0" fill="none" stroke="#00ff00" stroke-width="7.6" stroke-linejoin="round" stroke-linecap="round"/>
<path d="M1709.0 492.0C1706.0 495.7 1704.0 499.6 1700.0 503.0C1694.7 507.4 1687.0 511.3 1679.0 515.0C1669.2 519.5 1656.0 523.6 1645.0 527.0C1634.8 530.2 1625.2 532.2 1615.0 535.0C1604.5 537.9 1593.9 541.2 1583.0 544.0C1571.9 546.9 1560.1 549.3 1549.0 552.0C1538.3 554.6 1528.3 557.4 1517.5 560.0C1506.3 562.7 1494.3 565.6 1483.0 568.0C1472.3 570.3 1461.9 571.1 1451.5 574.0C1440.9 577.0 1429.2 581.9 1420.0 586.0C1412.5 589.3 1406.9 592.2 1400.0 596.0C1392.4 600.2 1383.5 605.8 1376.5 610.0C1370.9 613.3 1366.1 615.5 1361.5 619.0C1356.9 622.5 1353.4 626.9 1349.0 631.0C1344.2 635.5 1339.0 640.2 1334.0 645.0C1329.0 649.9 1323.4 654.7 1319.0 660.0C1314.8 665.1 1311.8 670.2 1308.0 676.0C1303.6 682.6 1298.5 690.4 1294.0 697.5C1289.7 704.3 1285.7 710.2 1281.5 717.5C1276.6 725.9 1270.6 737.2 1266.5 745.0C1263.5 750.7 1261.8 754.8 1259.0 760.0C1256.0 765.6 1252.3 771.4 1249.0 777.5C1245.6 783.9 1241.9 791.0 1239.0 797.5C1236.3 803.5 1235.0 809.1 1232.0 815.0C1228.7 821.6 1223.8 827.8 1219.5 835.0C1214.6 843.3 1209.9 853.3 1204.5 862.0C1199.1 870.8 1192.9 879.8 1187.0 887.5C1181.7 894.3 1176.5 901.0 1171.0 906.0C1166.4 910.2 1162.8 913.6 1157.0 916.0C1149.6 919.1 1138.7 921.0 1129.5 921.0C1120.3 921.0 1110.9 919.3 1102.0 916.0C1092.5 912.5 1083.5 905.9 1074.5 900.0C1065.2 893.9 1056.1 887.0 1047.0 880.0C1037.7 872.8 1029.0 863.9 1019.5 857.5C1010.6 851.5 1001.3 847.1 992.0 842.5C982.9 838.0 973.7 833.9 964.5 830.0C955.4 826.1 947.1 822.3 937.0 819.0C925.0 815.1 909.4 811.9 897.0 809.0C886.3 806.5 878.2 804.4 867.0 802.5C853.1 800.2 836.2 798.1 820.0 797.0C802.9 795.8 785.7 796.7 767.0 796.0C746.0 795.3 720.6 795.2 700.0 792.5C682.0 790.2 666.6 786.1 650.0 782.0C633.3 777.9 615.5 772.3 600.0 768.0C586.6 764.2 575.0 760.9 562.5 757.5C550.0 754.1 537.4 751.2 525.0 747.5C512.4 743.7 500.0 739.1 487.5 735.0C475.0 730.9 463.5 726.5 450.0 723.0C434.6 719.0 415.8 715.6 400.0 713.0C386.0 710.7 372.3 709.2 360.0 708.0C349.6 707.0 340.7 706.7 331.0 706.0C344.0 700.7 356.1 695.3 370.0 690.0C385.6 684.0 401.5 679.0 420.0 672.0C443.6 663.0 475.2 649.5 500.0 640.0C521.4 631.8 541.5 625.3 560.0 618.0C576.2 611.6 589.6 607.0 605.0 599.0C622.8 589.8 642.1 577.0 660.0 565.0C677.8 553.0 695.6 540.2 712.0 527.0C727.9 514.2 747.7 497.5 757.0 487.0C762.0 481.3 762.8 477.1 767.0 472.5C771.8 467.2 778.5 463.4 784.5 457.5C791.8 450.4 799.5 439.9 807.0 432.5C813.7 425.9 821.1 420.0 827.0 415.0C831.6 411.1 834.6 408.3 839.5 405.0C845.8 400.8 855.1 396.9 862.0 392.5C868.3 388.5 873.7 383.2 879.5 380.0C884.5 377.3 888.9 375.7 894.5 374.0C901.2 371.9 909.3 370.3 917.0 369.0C925.1 367.6 933.7 366.5 942.0 366.0C950.3 365.5 958.7 365.8 967.0 366.0C975.3 366.2 983.7 366.8 992.0 367.5C1000.3 368.2 1008.3 369.2 1017.0 370.0C1026.5 370.9 1036.8 372.1 1047.0 372.5C1057.6 372.9 1068.3 373.6 1079.5 372.5C1091.6 371.3 1105.8 367.8 1117.0 365.0C1126.2 362.7 1134.8 360.3 1142.0 357.5C1147.7 355.2 1151.4 352.1 1157.0 350.0C1163.6 347.5 1171.9 346.7 1179.5 344.0C1187.7 341.0 1196.1 337.4 1204.5 332.5C1214.0 327.0 1224.3 317.3 1233.0 312.0C1239.7 307.9 1244.7 305.8 1251.5 302.5C1259.7 298.5 1270.1 294.3 1279.0 290.0C1287.6 285.9 1295.1 281.2 1304.0 277.5C1313.4 273.6 1323.0 270.2 1334.0 267.5C1346.8 264.4 1363.9 261.3 1376.5 261.0C1386.6 260.8 1396.2 262.7 1404.0 264.0C1409.8 265.0 1414.1 265.7 1419.0 267.5C1424.1 269.3 1429.3 272.2 1434.0 275.0C1438.5 277.7 1442.4 280.7 1446.5 284.0C1450.8 287.4 1454.3 290.3 1459.0 295.0C1466.1 302.0 1476.8 313.7 1484.0 322.5C1490.1 330.0 1494.8 337.1 1500.0 344.0C1504.8 350.4 1509.2 356.5 1514.0 362.5C1518.8 368.5 1524.2 374.5 1529.0 380.0C1533.3 384.9 1536.6 388.7 1541.5 394.0C1548.3 401.4 1558.6 413.2 1566.5 420.0C1572.6 425.3 1577.0 427.8 1584.0 432.5C1593.8 439.0 1607.4 448.3 1620.0 455.0C1632.8 461.8 1647.5 468.1 1660.0 473.0C1670.6 477.1 1681.2 479.5 1690.0 483.0C1697.2 485.9 1702.7 489.0 1709.0 492.0" fill="none" stroke="#00ff00" stroke-width="8" stroke-linecap="round" stroke-linejoin="round" stroke-dasharray="29 37" stroke-dashoffset="0"/>
<path d="M1709.0 492.0C1706.0 495.7 1704.0 499.6 1700.0 503.0C1694.7 507.4 1687.0 511.3 1679.0 515.0C1669.2 519.5 1656.0 523.6 1645.0 527.0C1634.8 530.2 1625.2 532.2 1615.0 535.0C1604.5 537.9 1593.9 541.2 1583.0 544.0C1571.9 546.9 1560.1 549.3 1549.0 552.0C1538.3 554.6 1528.3 557.4 1517.5 560.0C1506.3 562.7 1494.3 565.6 1483.0 568.0C1472.3 570.3 1461.9 571.1 1451.5 574.0C1440.9 577.0 1429.2 581.9 1420.0 586.0C1412.5 589.3 1406.9 592.2 1400.0 596.0C1392.4 600.2 1383.5 605.8 1376.5 610.0C1370.9 613.3 1366.1 615.5 1361.5 619.0C1356.9 622.5 1353.4 626.9 1349.0 631.0C1344.2 635.5 1339.0 640.2 1334.0 645.0C1329.0 649.9 1323.4 654.7 1319.0 660.0C1314.8 665.1 1311.8 670.2 1308.0 676.0C1303.6 682.6 1298.5 690.4 1294.0 697.5C1289.7 704.3 1285.7 710.2 1281.5 717.5C1276.6 725.9 1270.6 737.2 1266.5 745.0C1263.5 750.7 1261.8 754.8 1259.0 760.0C1256.0 765.6 1252.3 771.4 1249.0 777.5C1245.6 783.9 1241.9 791.0 1239.0 797.5C1236.3 803.5 1235.0 809.1 1232.0 815.0C1228.7 821.6 1223.8 827.8 1219.5 835.0C1214.6 843.3 1209.9 853.3 1204.5 862.0C1199.1 870.8 1192.9 879.8 1187.0 887.5C1181.7 894.3 1176.5 901.0 1171.0 906.0C1166.4 910.2 1162.8 913.6 1157.0 916.0C1149.6 919.1 1138.7 921.0 1129.5 921.0C1120.3 921.0 1110.9 919.3 1102.0 916.0C1092.5 912.5 1083.5 905.9 1074.5 900.0C1065.2 893.9 1056.1 887.0 1047.0 880.0C1037.7 872.8 1029.0 863.9 1019.5 857.5C1010.6 851.5 1001.3 847.1 992.0 842.5C982.9 838.0 973.7 833.9 964.5 830.0C955.4 826.1 947.1 822.3 937.0 819.0C925.0 815.1 909.4 811.9 897.0 809.0C886.3 806.5 878.2 804.4 867.0 802.5C853.1 800.2 836.2 798.1 820.0 797.0C802.9 795.8 785.7 796.7 767.0 796.0C746.0 795.3 720.6 795.2 700.0 792.5C682.0 790.2 666.6 786.1 650.0 782.0C633.3 777.9 615.5 772.3 600.0 768.0C586.6 764.2 575.0 760.9 562.5 757.5C550.0 754.1 537.4 751.2 525.0 747.5C512.4 743.7 500.0 739.1 487.5 735.0C475.0 730.9 463.5 726.5 450.0 723.0C434.6 719.0 415.8 715.6 400.0 713.0C386.0 710.7 372.3 709.2 360.0 708.0C349.6 707.0 340.7 706.7 331.0 706.0C344.0 700.7 356.1 695.3 370.0 690.0C385.6 684.0 401.5 679.0 420.0 672.0C443.6 663.0 475.2 649.5 500.0 640.0C521.4 631.8 541.5 625.3 560.0 618.0C576.2 611.6 589.6 607.0 605.0 599.0C622.8 589.8 642.1 577.0 660.0 565.0C677.8 553.0 695.6 540.2 712.0 527.0C727.9 514.2 747.7 497.5 757.0 487.0C762.0 481.3 762.8 477.1 767.0 472.5C771.8 467.2 778.5 463.4 784.5 457.5C791.8 450.4 799.5 439.9 807.0 432.5C813.7 425.9 821.1 420.0 827.0 415.0C831.6 411.1 834.6 408.3 839.5 405.0C845.8 400.8 855.1 396.9 862.0 392.5C868.3 388.5 873.7 383.2 879.5 380.0C884.5 377.3 888.9 375.7 894.5 374.0C901.2 371.9 909.3 370.3 917.0 369.0C925.1 367.6 933.7 366.5 942.0 366.0C950.3 365.5 958.7 365.8 967.0 366.0C975.3 366.2 983.7 366.8 992.0 367.5C1000.3 368.2 1008.3 369.2 1017.0 370.0C1026.5 370.9 1036.8 372.1 1047.0 372.5C1057.6 372.9 1068.3 373.6 1079.5 372.5C1091.6 371.3 1105.8 367.8 1117.0 365.0C1126.2 362.7 1134.8 360.3 1142.0 357.5C1147.7 355.2 1151.4 352.1 1157.0 350.0C1163.6 347.5 1171.9 346.7 1179.5 344.0C1187.7 341.0 1196.1 337.4 1204.5 332.5C1214.0 327.0 1224.3 317.3 1233.0 312.0C1239.7 307.9 1244.7 305.8 1251.5 302.5C1259.7 298.5 1270.1 294.3 1279.0 290.0C1287.6 285.9 1295.1 281.2 1304.0 277.5C1313.4 273.6 1323.0 270.2 1334.0 267.5C1346.8 264.4 1363.9 261.3 1376.5 261.0C1386.6 260.8 1396.2 262.7 1404.0 264.0C1409.8 265.0 1414.1 265.7 1419.0 267.5C1424.1 269.3 1429.3 272.2 1434.0 275.0C1438.5 277.7 1442.4 280.7 1446.5 284.0C1450.8 287.4 1454.3 290.3 1459.0 295.0C1466.1 302.0 1476.8 313.7 1484.0 322.5C1490.1 330.0 1494.8 337.1 1500.0 344.0C1504.8 350.4 1509.2 356.5 1514.0 362.5C1518.8 368.5 1524.2 374.5 1529.0 380.0C1533.3 384.9 1536.6 388.7 1541.5 394.0C1548.3 401.4 1558.6 413.2 1566.5 420.0C1572.6 425.3 1577.0 427.8 1584.0 432.5C1593.8 439.0 1607.4 448.3 1620.0 455.0C1632.8 461.8 1647.5 468.1 1660.0 473.0C1670.6 477.1 1681.2 479.5 1690.0 483.0C1697.2 485.9 1702.7 489.0 1709.0 492.0" fill="none" stroke="#00ff00" stroke-width="4.8" stroke-linecap="round" stroke-dasharray="0.01 13.5 0.01 52.48" stroke-dashoffset="-41.5"/>
<path d="M1707.0 577.5C1654.7 577.8 1595.2 578.0 1550.0 578.5C1515.6 578.9 1484.8 579.1 1459.0 580.0C1439.9 580.6 1422.8 581.5 1409.0 582.5C1399.2 583.2 1392.3 583.8 1384.0 585.0C1375.6 586.3 1367.3 588.2 1359.0 590.0C1350.6 591.8 1342.3 593.5 1334.0 596.0C1325.6 598.5 1317.3 601.8 1309.0 605.0C1300.6 608.2 1292.3 611.4 1284.0 615.0C1275.6 618.6 1266.7 622.6 1259.0 626.5C1252.2 630.0 1245.8 633.0 1240.0 637.0C1234.5 640.9 1229.8 645.2 1225.0 650.0C1219.8 655.1 1215.0 660.6 1210.0 667.0C1204.1 674.6 1198.2 682.9 1192.0 693.0C1184.0 705.9 1175.1 722.8 1167.0 738.5C1158.5 755.0 1150.2 772.3 1142.0 790.0C1133.5 808.6 1125.2 827.9 1117.0 847.5C1108.5 867.8 1099.0 893.0 1092.0 910.0C1087.2 921.8 1083.6 929.8 1079.5 940.0C1075.3 950.6 1071.2 961.7 1067.0 972.5C1062.8 983.3 1058.8 994.7 1054.5 1005.0C1050.5 1014.6 1046.5 1024.2 1042.0 1032.5C1038.1 1039.8 1034.2 1047.3 1029.5 1052.5C1025.7 1056.8 1021.4 1060.2 1017.0 1062.5C1013.0 1064.5 1008.7 1065.8 1004.5 1066.0C1000.4 1066.2 996.0 1065.6 992.0 1064.0C987.6 1062.2 983.5 1058.4 979.5 1055.0C975.2 1051.3 971.7 1047.7 967.0 1042.5C959.9 1034.8 950.2 1022.8 942.0 1012.5C933.6 1002.0 925.3 990.8 917.0 980.0C908.7 969.2 900.6 957.6 892.0 947.5C883.9 938.0 875.2 929.2 867.0 921.0C859.5 913.5 852.8 907.2 845.0 900.0C836.3 892.0 826.2 882.8 817.0 875.0C808.5 867.8 800.6 860.8 792.0 855.0C783.9 849.5 777.6 845.8 767.0 841.0C750.3 833.5 720.7 824.8 700.0 817.5C682.1 811.2 666.7 805.4 650.0 800.0C633.4 794.6 616.7 790.0 600.0 785.0C583.3 780.0 566.7 775.0 550.0 770.0C533.3 765.0 516.7 759.6 500.0 755.0C483.4 750.4 466.7 746.6 450.0 742.5C433.3 738.4 415.3 732.5 400.0 730.4C387.4 728.6 376.5 729.9 365.0 729.0C353.8 728.1 343.0 726.3 332.0 725.0C336.3 722.0 340.3 718.7 345.0 716.0C349.9 713.2 354.5 711.4 361.0 708.6C371.1 704.2 387.1 698.2 400.0 693.0C412.7 687.9 425.8 682.5 438.0 677.8C449.2 673.5 459.7 669.9 470.5 666.0C481.2 662.2 491.0 659.3 502.6 654.7C517.0 649.0 532.2 640.7 550.0 634.0C572.0 625.7 602.8 618.6 625.0 610.0C643.6 602.8 658.4 595.0 675.0 587.0C691.7 579.0 709.3 570.4 725.0 562.0C739.5 554.2 754.0 546.2 766.0 538.5C775.8 532.2 783.5 526.3 792.0 520.0C800.5 513.8 808.7 507.5 817.0 501.0C825.4 494.5 833.6 487.5 842.0 481.0C850.3 474.6 858.6 468.5 867.0 462.5C875.3 456.5 883.6 450.6 892.0 445.0C900.3 439.5 908.6 434.2 917.0 429.0C925.3 423.9 933.6 418.9 942.0 414.0C950.3 409.2 958.7 404.7 967.0 400.0C975.3 395.3 983.6 390.4 992.0 386.0C1000.3 381.7 1008.6 377.7 1017.0 374.0C1025.3 370.4 1033.6 367.2 1042.0 364.0C1050.3 360.8 1058.6 357.5 1067.0 355.0C1075.3 352.5 1083.6 350.8 1092.0 349.0C1100.3 347.2 1108.7 345.7 1117.0 344.0C1125.3 342.3 1133.7 340.7 1142.0 339.0C1150.3 337.3 1158.7 335.9 1167.0 334.0C1175.4 332.1 1183.7 329.7 1192.0 327.5C1200.3 325.3 1209.5 322.2 1217.0 321.0C1222.9 320.1 1227.1 321.0 1233.0 320.0C1240.7 318.7 1250.4 315.0 1259.0 312.5C1267.4 310.0 1275.6 306.9 1284.0 305.0C1292.3 303.1 1300.6 301.8 1309.0 301.0C1317.3 300.2 1325.7 299.5 1334.0 300.0C1342.4 300.5 1350.8 302.0 1359.0 304.0C1367.4 306.1 1375.8 309.1 1384.0 312.5C1392.5 316.0 1400.8 320.1 1409.0 325.0C1417.5 330.1 1425.9 336.0 1434.0 342.5C1442.5 349.3 1450.7 357.5 1459.0 365.0C1467.3 372.5 1475.7 380.0 1484.0 387.5C1492.3 395.0 1500.5 403.2 1509.0 410.0C1517.1 416.5 1525.7 421.7 1534.0 427.5C1542.3 433.3 1550.6 439.5 1559.0 445.0C1567.2 450.3 1575.5 455.6 1584.0 460.0C1592.2 464.2 1600.6 467.6 1609.0 471.0C1617.3 474.3 1625.6 477.5 1634.0 480.0C1642.3 482.5 1651.4 484.2 1659.0 486.0C1665.3 487.5 1669.8 488.9 1676.5 490.0C1685.2 491.4 1696.8 492.0 1707.0 493.0" fill="none" stroke="#0000ff" stroke-width="7.6" stroke-linejoin="round" stroke-linecap="round"/>
<path d="M1709.0 492.0C1699.0 498.7 1689.7 506.7 1679.0 512.0C1668.3 517.3 1656.1 520.8 1645.0 524.0C1634.8 527.0 1625.1 528.4 1615.0 531.0C1604.5 533.7 1593.9 537.5 1583.0 540.0C1571.9 542.5 1560.2 544.0 1549.0 546.0C1537.9 548.0 1527.1 550.1 1516.0 552.0C1504.6 553.9 1492.6 555.4 1481.5 557.5C1471.1 559.4 1461.9 561.9 1451.5 564.0C1440.3 566.3 1428.3 568.4 1416.5 570.5C1404.5 572.7 1391.4 573.9 1380.0 577.0C1369.4 579.9 1359.8 584.0 1350.0 588.0C1340.3 592.0 1330.7 596.8 1321.5 601.0C1312.9 604.9 1303.8 608.1 1296.5 612.5C1290.2 616.3 1285.1 620.7 1280.0 625.0C1275.2 629.1 1271.3 633.2 1266.5 637.5C1261.1 642.3 1253.9 647.9 1249.0 652.5C1245.1 656.1 1242.4 658.6 1239.0 662.5C1234.8 667.2 1230.5 673.6 1226.0 679.0C1221.5 684.4 1216.6 689.3 1212.0 695.0C1207.2 701.0 1203.2 707.2 1198.0 714.0C1191.8 722.1 1183.7 730.9 1177.0 740.0C1170.0 749.5 1164.2 759.3 1157.0 770.0C1148.6 782.4 1137.5 800.7 1129.5 810.0C1124.6 815.7 1120.8 817.8 1116.0 822.5C1110.1 828.3 1103.3 837.2 1097.0 842.5C1091.9 846.8 1087.5 849.1 1082.0 852.5C1075.5 856.5 1067.0 862.2 1060.5 865.0C1055.6 867.1 1051.6 868.0 1047.0 869.0C1042.4 870.0 1037.8 870.8 1033.0 871.0C1027.9 871.2 1023.4 871.1 1017.0 870.0C1006.8 868.3 989.6 863.2 978.0 859.0C968.3 855.5 961.0 851.2 952.0 847.5C942.4 843.5 932.2 840.1 922.0 836.0C911.4 831.7 900.2 826.2 889.5 822.5C879.5 819.0 870.4 816.4 860.0 814.0C848.8 811.4 836.2 809.8 824.5 807.5C812.9 805.2 800.3 802.2 790.0 800.0C781.6 798.2 777.0 796.7 767.0 795.0C748.9 791.9 714.6 788.5 690.0 785.0C667.4 781.8 646.6 778.8 625.0 775.0C603.3 771.2 581.6 767.0 560.0 762.0C538.3 757.0 517.2 749.9 495.0 745.0C472.2 740.0 445.8 735.9 425.0 732.5C408.4 729.8 395.3 727.9 380.0 726.0C364.0 724.0 347.3 722.7 331.0 721.0C340.7 715.7 349.4 710.2 360.0 705.0C372.1 699.1 385.9 693.8 400.0 688.0C415.7 681.5 433.3 674.7 450.0 668.0C466.7 661.3 482.5 654.8 500.0 648.0C519.1 640.5 540.2 632.3 560.0 625.0C579.2 618.0 598.1 612.8 617.0 605.0C636.5 596.9 656.0 586.7 675.0 577.0C693.7 567.4 715.1 556.0 730.0 547.0C740.8 540.5 749.8 534.3 757.0 529.0C762.1 525.3 764.4 522.9 769.5 519.0C777.3 513.1 791.9 504.0 799.5 497.5C804.8 493.0 807.0 489.5 812.0 485.0C818.8 478.9 829.7 471.3 837.0 465.0C843.0 459.8 847.7 454.3 853.0 450.0C857.7 446.2 861.7 443.8 867.0 440.0C874.1 435.0 884.4 427.9 892.0 422.5C898.4 418.0 904.2 413.8 909.5 410.0C914.0 406.8 916.9 404.2 922.0 401.0C929.3 396.4 941.3 390.2 949.5 386.0C955.9 382.7 960.7 380.9 967.0 377.5C974.7 373.3 984.6 366.3 992.0 362.5C997.5 359.7 1001.7 357.9 1007.0 356.0C1012.5 354.0 1018.3 352.8 1024.5 351.0C1031.5 349.0 1039.1 346.6 1047.0 344.5C1055.7 342.1 1065.3 339.1 1074.5 337.5C1083.6 335.9 1092.0 336.4 1102.0 335.0C1114.1 333.3 1129.8 330.0 1142.0 327.5C1152.5 325.3 1163.2 323.3 1171.0 321.0C1176.4 319.4 1179.6 318.0 1184.5 316.0C1190.5 313.6 1197.6 310.0 1204.5 307.5C1211.5 305.0 1219.8 303.4 1226.0 301.0C1230.9 299.1 1233.7 297.1 1239.0 295.0C1246.9 291.9 1259.4 288.0 1269.0 285.0C1277.7 282.2 1284.6 279.3 1294.0 277.5C1305.7 275.3 1321.8 273.3 1334.0 274.0C1344.5 274.6 1355.3 277.5 1363.0 280.0C1368.5 281.8 1371.8 283.4 1376.5 286.0C1382.1 289.0 1387.8 293.2 1394.0 297.5C1401.4 302.6 1411.0 309.2 1418.0 315.0C1424.0 320.0 1428.6 324.8 1434.0 330.0C1439.7 335.6 1447.0 342.3 1451.5 347.5C1454.7 351.2 1455.5 353.7 1459.0 357.5C1464.7 363.7 1477.3 373.0 1484.0 380.0C1489.1 385.3 1491.4 389.9 1496.5 395.0C1502.9 401.5 1511.6 408.3 1520.0 415.0C1529.3 422.3 1539.5 430.0 1550.0 437.0C1560.8 444.3 1572.3 451.7 1584.0 458.0C1595.7 464.3 1607.5 470.4 1620.0 475.0C1632.8 479.7 1647.5 483.5 1660.0 486.0C1670.6 488.2 1681.1 488.9 1690.0 490.0C1697.0 490.8 1702.7 491.3 1709.0 492.0" fill="none" stroke="#0000ff" stroke-width="8" stroke-linecap="round" stroke-linejoin="round" stroke-dasharray="29 37" stroke-dashoffset="0"/>
<path d="M1709.0 492.0C1699.0 498.7 1689.7 506.7 1679.0 512.0C1668.3 517.3 1656.1 520.8 1645.0 524.0C1634.8 527.0 1625.1 528.4 1615.0 531.0C1604.5 533.7 1593.9 537.5 1583.0 540.0C1571.9 542.5 1560.2 544.0 1549.0 546.0C1537.9 548.0 1527.1 550.1 1516.0 552.0C1504.6 553.9 1492.6 555.4 1481.5 557.5C1471.1 559.4 1461.9 561.9 1451.5 564.0C1440.3 566.3 1428.3 568.4 1416.5 570.5C1404.5 572.7 1391.4 573.9 1380.0 577.0C1369.4 579.9 1359.8 584.0 1350.0 588.0C1340.3 592.0 1330.7 596.8 1321.5 601.0C1312.9 604.9 1303.8 608.1 1296.5 612.5C1290.2 616.3 1285.1 620.7 1280.0 625.0C1275.2 629.1 1271.3 633.2 1266.5 637.5C1261.1 642.3 1253.9 647.9 1249.0 652.5C1245.1 656.1 1242.4 658.6 1239.0 662.5C1234.8 667.2 1230.5 673.6 1226.0 679.0C1221.5 684.4 1216.6 689.3 1212.0 695.0C1207.2 701.0 1203.2 707.2 1198.0 714.0C1191.8 722.1 1183.7 730.9 1177.0 740.0C1170.0 749.5 1164.2 759.3 1157.0 770.0C1148.6 782.4 1137.5 800.7 1129.5 810.0C1124.6 815.7 1120.8 817.8 1116.0 822.5C1110.1 828.3 1103.3 837.2 1097.0 842.5C1091.9 846.8 1087.5 849.1 1082.0 852.5C1075.5 856.5 1067.0 862.2 1060.5 865.0C1055.6 867.1 1051.6 868.0 1047.0 869.0C1042.4 870.0 1037.8 870.8 1033.0 871.0C1027.9 871.2 1023.4 871.1 1017.0 870.0C1006.8 868.3 989.6 863.2 978.0 859.0C968.3 855.5 961.0 851.2 952.0 847.5C942.4 843.5 932.2 840.1 922.0 836.0C911.4 831.7 900.2 826.2 889.5 822.5C879.5 819.0 870.4 816.4 860.0 814.0C848.8 811.4 836.2 809.8 824.5 807.5C812.9 805.2 800.3 802.2 790.0 800.0C781.6 798.2 777.0 796.7 767.0 795.0C748.9 791.9 714.6 788.5 690.0 785.0C667.4 781.8 646.6 778.8 625.0 775.0C603.3 771.2 581.6 767.0 560.0 762.0C538.3 757.0 517.2 749.9 495.0 745.0C472.2 740.0 445.8 735.9 425.0 732.5C408.4 729.8 395.3 727.9 380.0 726.0C364.0 724.0 347.3 722.7 331.0 721.0C340.7 715.7 349.4 710.2 360.0 705.0C372.1 699.1 385.9 693.8 400.0 688.0C415.7 681.5 433.3 674.7 450.0 668.0C466.7 661.3 482.5 654.8 500.0 648.0C519.1 640.5 540.2 632.3 560.0 625.0C579.2 618.0 598.1 612.8 617.0 605.0C636.5 596.9 656.0 586.7 675.0 577.0C693.7 567.4 715.1 556.0 730.0 547.0C740.8 540.5 749.8 534.3 757.0 529.0C762.1 525.3 764.4 522.9 769.5 519.0C777.3 513.1 791.9 504.0 799.5 497.5C804.8 493.0 807.0 489.5 812.0 485.0C818.8 478.9 829.7 471.3 837.0 465.0C843.0 459.8 847.7 454.3 853.0 450.0C857.7 446.2 861.7 443.8 867.0 440.0C874.1 435.0 884.4 427.9 892.0 422.5C898.4 418.0 904.2 413.8 909.5 410.0C914.0 406.8 916.9 404.2 922.0 401.0C929.3 396.4 941.3 390.2 949.5 386.0C955.9 382.7 960.7 380.9 967.0 377.5C974.7 373.3 984.6 366.3 992.0 362.5C997.5 359.7 1001.7 357.9 1007.0 356.0C1012.5 354.0 1018.3 352.8 1024.5 351.0C1031.5 349.0 1039.1 346.6 1047.0 344.5C1055.7 342.1 1065.3 339.1 1074.5 337.5C1083.6 335.9 1092.0 336.4 1102.0 335.0C1114.1 333.3 1129.8 330.0 1142.0 327.5C1152.5 325.3 1163.2 323.3 1171.0 321.0C1176.4 319.4 1179.6 318.0 1184.5 316.0C1190.5 313.6 1197.6 310.0 1204.5 307.5C1211.5 305.0 1219.8 303.4 1226.0 301.0C1230.9 299.1 1233.7 297.1 1239.0 295.0C1246.9 291.9 1259.4 288.0 1269.0 285.0C1277.7 282.2 1284.6 279.3 1294.0 277.5C1305.7 275.3 1321.8 273.3 1334.0 274.0C1344.5 274.6 1355.3 277.5 1363.0 280.0C1368.5 281.8 1371.8 283.4 1376.5 286.0C1382.1 289.0 1387.8 293.2 1394.0 297.5C1401.4 302.6 1411.0 309.2 1418.0 315.0C1424.0 320.0 1428.6 324.8 1434.0 330.0C1439.7 335.6 1447.0 342.3 1451.5 347.5C1454.7 351.2 1455.5 353.7 1459.0 357.5C1464.7 363.7 1477.3 373.0 1484.0 380.0C1489.1 385.3 1491.4 389.9 1496.5 395.0C1502.9 401.5 1511.6 408.3 1520.0 415.0C1529.3 422.3 1539.5 430.0 1550.0 437.0C1560.8 444.3 1572.3 451.7 1584.0 458.0C1595.7 464.3 1607.5 470.4 1620.0 475.0C1632.8 479.7 1647.5 483.5 1660.0 486.0C1670.6 488.2 1681.1 488.9 1690.0 490.0C1697.0 490.8 1702.7 491.3 1709.0 492.0" fill="none" stroke="#0000ff" stroke-width="4.8" stroke-linecap="round" stroke-dasharray="0.01 13.5 0.01 52.48" stroke-dashoffset="-41.5"/>
<path d="M1707.0 577.5C1638.0 577.8 1556.6 578.1 1500.0 578.5C1460.7 578.8 1426.0 578.9 1400.0 579.5C1383.3 579.9 1373.3 579.8 1359.0 581.0C1343.1 582.3 1322.7 584.8 1309.0 587.5C1299.2 589.4 1292.3 591.5 1284.0 594.0C1275.6 596.5 1267.3 599.5 1259.0 602.5C1250.6 605.5 1241.5 608.8 1234.0 612.0C1227.7 614.7 1223.2 616.9 1217.0 620.0C1209.4 623.7 1200.2 628.1 1192.0 633.0C1183.5 638.1 1175.2 643.9 1167.0 650.0C1158.5 656.2 1150.1 662.7 1142.0 670.0C1133.4 677.7 1125.3 686.7 1117.0 695.0C1108.7 703.3 1100.0 710.8 1092.0 720.0C1083.3 729.9 1075.3 741.7 1067.0 752.5C1058.7 763.3 1050.3 774.2 1042.0 785.0C1033.7 795.8 1025.4 807.0 1017.0 817.5C1008.8 827.8 1000.1 837.0 992.0 847.5C983.5 858.6 975.5 871.4 967.0 882.5C958.8 893.2 950.8 904.3 942.0 913.0C934.1 920.8 925.7 927.7 917.0 933.0C909.0 937.9 900.5 941.4 892.0 944.0C883.8 946.5 875.4 948.2 867.0 948.5C858.7 948.8 850.3 947.5 842.0 946.0C833.6 944.5 825.2 942.3 817.0 939.5C808.6 936.6 800.2 933.0 792.0 929.0C783.5 924.9 777.1 920.3 767.0 915.0C752.1 907.2 728.7 896.8 710.8 887.7C694.0 879.2 678.8 870.1 662.6 862.0C646.7 854.0 630.6 846.9 614.5 839.5C598.4 832.1 578.2 823.0 566.0 817.5C558.6 814.2 554.8 812.2 548.0 809.5C539.3 806.1 527.9 802.1 518.0 799.0C508.6 796.0 498.6 793.4 490.0 791.0C482.8 789.0 477.5 787.5 470.0 785.5C460.6 783.0 449.9 780.4 438.0 777.5C423.0 773.8 404.4 769.2 387.0 765.0C368.8 760.7 349.7 756.3 331.0 752.0C333.3 748.0 335.3 742.8 338.0 740.0C340.0 737.9 341.4 737.3 344.7 735.6C352.6 731.5 373.3 724.6 387.0 718.9C400.2 713.4 412.8 708.0 425.6 702.2C438.5 696.4 451.1 689.8 464.0 684.2C476.8 678.7 489.1 674.2 502.6 668.8C517.6 662.8 532.4 656.8 550.0 650.0C572.1 641.5 602.5 630.0 625.0 622.0C643.3 615.5 658.4 610.8 675.0 605.0C691.7 599.2 709.2 593.1 725.0 587.0C739.4 581.4 751.8 576.8 766.0 570.0C782.3 562.3 800.2 552.1 817.0 542.5C833.9 532.9 850.2 522.1 867.0 512.5C883.6 503.0 900.2 493.8 917.0 485.0C933.6 476.3 950.3 468.2 967.0 460.0C983.6 451.9 1000.2 443.5 1017.0 436.0C1033.6 428.5 1053.2 420.9 1067.0 415.0C1076.8 410.8 1083.7 407.7 1092.0 404.0C1100.3 400.2 1108.6 396.1 1117.0 392.5C1125.3 388.9 1133.7 385.8 1142.0 382.5C1150.3 379.2 1158.6 375.6 1167.0 372.5C1175.3 369.4 1183.7 366.8 1192.0 364.0C1200.3 361.3 1209.6 358.5 1217.0 356.0C1222.9 354.0 1227.0 352.2 1233.0 350.5C1240.6 348.4 1250.4 346.4 1259.0 345.0C1267.4 343.6 1275.7 342.5 1284.0 342.0C1292.3 341.5 1300.7 341.5 1309.0 342.0C1317.3 342.5 1325.7 343.7 1334.0 345.0C1342.4 346.3 1350.7 347.9 1359.0 350.0C1367.4 352.1 1375.7 354.6 1384.0 357.5C1392.4 360.4 1400.7 363.8 1409.0 367.5C1417.4 371.3 1425.7 375.8 1434.0 380.0C1442.3 384.2 1450.7 388.3 1459.0 392.5C1467.3 396.7 1475.7 400.8 1484.0 405.0C1492.3 409.2 1500.7 413.3 1509.0 417.5C1517.3 421.7 1525.6 426.2 1534.0 430.0C1542.3 433.7 1550.7 436.7 1559.0 440.0C1567.3 443.3 1575.6 446.8 1584.0 450.0C1592.3 453.2 1600.6 456.3 1609.0 459.0C1617.3 461.6 1625.7 463.7 1634.0 466.0C1642.3 468.2 1650.6 470.8 1659.0 472.5C1667.3 474.2 1675.9 474.7 1684.0 476.0C1691.8 477.2 1699.3 478.7 1707.0 480.0" fill="none" stroke="#00ffff" stroke-width="7.6" stroke-linejoin="round" stroke-linecap="round"/>
<path d="M1709.0 476.0C1698.7 482.3 1688.0 489.3 1678.0 495.0C1669.0 500.2 1661.6 504.9 1652.0 509.0C1641.2 513.7 1627.6 517.4 1616.0 521.0C1605.3 524.3 1595.7 527.4 1585.0 530.0C1573.7 532.8 1561.5 534.9 1550.0 537.0C1539.0 539.0 1528.5 540.7 1517.5 542.5C1506.2 544.4 1495.1 545.9 1483.0 548.0C1469.4 550.3 1455.3 553.5 1440.0 556.0C1422.6 558.9 1400.4 561.2 1384.0 564.0C1370.9 566.2 1360.9 568.0 1349.0 571.0C1336.3 574.2 1321.6 578.8 1310.0 583.0C1300.4 586.5 1292.5 590.1 1284.0 594.0C1275.5 597.8 1267.3 602.1 1259.0 606.0C1250.7 609.9 1239.8 613.6 1234.0 617.5C1230.3 620.0 1229.1 622.4 1226.0 625.0C1222.1 628.2 1217.0 631.1 1212.0 635.0C1205.8 639.9 1198.8 646.7 1192.0 652.5C1185.1 658.4 1178.5 663.6 1171.0 670.0C1162.1 677.6 1151.3 686.5 1142.0 695.0C1133.0 703.2 1124.7 712.7 1116.0 720.0C1108.1 726.7 1101.0 730.5 1092.0 737.5C1079.7 747.0 1060.8 764.7 1049.5 772.5C1042.6 777.2 1039.2 779.3 1032.0 782.5C1021.6 787.0 1003.1 791.9 992.0 795.0C984.2 797.2 979.5 798.8 972.0 800.0C962.6 801.5 950.9 801.8 940.0 802.0C928.5 802.2 916.5 801.7 904.5 801.0C892.2 800.3 879.7 798.6 867.0 797.5C853.9 796.3 841.1 795.5 827.0 794.0C811.2 792.3 789.3 789.0 777.0 787.5C769.8 786.6 767.4 786.2 760.0 785.5C746.1 784.2 720.4 782.9 700.0 781.0C678.8 779.1 657.2 777.0 635.0 774.0C611.5 770.9 584.4 766.1 562.5 762.5C544.3 759.5 531.2 756.6 512.5 754.0C489.0 750.7 453.2 748.1 432.5 745.0C419.2 743.0 411.4 740.5 400.0 739.0C387.4 737.4 372.3 736.9 360.0 736.0C349.6 735.2 340.7 734.7 331.0 734.0C333.3 732.0 334.7 730.4 338.0 728.0C344.5 723.2 358.9 715.0 369.0 708.6C378.6 702.5 386.3 696.1 397.0 690.6C410.0 683.9 428.0 677.9 442.0 672.6C454.1 668.0 463.9 664.8 476.0 660.5C489.7 655.6 505.6 649.7 520.0 645.0C533.6 640.6 546.2 636.7 560.0 633.0C574.5 629.1 589.0 627.2 605.0 622.0C624.2 615.8 646.5 605.4 667.0 597.0C687.2 588.7 710.6 580.0 727.0 572.0C738.9 566.2 748.7 559.8 757.0 555.0C762.9 551.6 767.0 548.9 772.0 546.0C777.0 543.1 781.5 541.0 787.0 537.5C794.4 532.8 803.5 526.1 812.0 520.0C821.0 513.6 830.3 506.5 839.5 500.0C848.6 493.5 857.8 487.3 867.0 481.0C876.1 474.8 885.2 468.1 894.5 462.5C903.5 457.0 914.2 451.8 922.0 447.5C927.8 444.3 931.6 442.1 937.0 439.0C943.2 435.5 950.2 431.1 957.0 427.5C963.8 423.9 971.7 420.7 978.0 417.5C983.2 414.9 986.7 413.0 992.0 410.0C999.2 405.9 1009.7 399.0 1017.0 395.0C1022.6 391.9 1026.3 390.7 1032.0 387.5C1039.9 383.0 1049.9 374.8 1059.5 370.0C1069.0 365.3 1079.9 363.1 1089.5 359.0C1098.7 355.1 1107.6 349.7 1116.0 346.0C1123.3 342.7 1130.1 340.2 1137.0 337.5C1143.7 334.9 1149.0 332.5 1157.0 330.0C1168.5 326.4 1188.4 321.4 1199.5 319.0C1206.6 317.5 1210.8 316.8 1217.0 316.0C1223.9 315.1 1231.1 314.8 1239.0 314.0C1248.2 313.1 1259.4 311.2 1269.0 311.0C1277.7 310.8 1284.8 311.1 1294.0 312.5C1305.8 314.3 1321.9 318.6 1334.0 322.5C1344.6 325.9 1353.3 329.6 1363.0 334.0C1373.3 338.7 1384.4 344.7 1394.0 350.0C1402.6 354.7 1409.3 359.1 1418.0 364.0C1428.2 369.8 1440.4 376.4 1451.5 382.5C1462.4 388.4 1472.0 393.7 1484.0 400.0C1498.8 407.7 1517.2 417.3 1534.0 425.0C1550.5 432.6 1567.2 439.8 1584.0 446.0C1600.5 452.1 1617.2 457.5 1634.0 462.0C1650.6 466.5 1670.1 470.7 1684.0 473.0C1693.7 474.6 1700.7 475.0 1709.0 476.0" fill="none" stroke="#00ffff" stroke-width="8" stroke-linecap="round" stroke-linejoin="round" stroke-dasharray="29 37" stroke-dashoffset="0"/>
<path d="M1709.0 476.0C1698.7 482.3 1688.0 489.3 1678.0 495.0C1669.0 500.2 1661.6 504.9 1652.0 509.0C1641.2 513.7 1627.6 517.4 1616.0 521.0C1605.3 524.3 1595.7 527.4 1585.0 530.0C1573.7 532.8 1561.5 534.9 1550.0 537.0C1539.0 539.0 1528.5 540.7 1517.5 542.5C1506.2 544.4 1495.1 545.9 1483.0 548.0C1469.4 550.3 1455.3 553.5 1440.0 556.0C1422.6 558.9 1400.4 561.2 1384.0 564.0C1370.9 566.2 1360.9 568.0 1349.0 571.0C1336.3 574.2 1321.6 578.8 1310.0 583.0C1300.4 586.5 1292.5 590.1 1284.0 594.0C1275.5 597.8 1267.3 602.1 1259.0 606.0C1250.7 609.9 1239.8 613.6 1234.0 617.5C1230.3 620.0 1229.1 622.4 1226.0 625.0C1222.1 628.2 1217.0 631.1 1212.0 635.0C1205.8 639.9 1198.8 646.7 1192.0 652.5C1185.1 658.4 1178.5 663.6 1171.0 670.0C1162.1 677.6 1151.3 686.5 1142.0 695.0C1133.0 703.2 1124.7 712.7 1116.0 720.0C1108.1 726.7 1101.0 730.5 1092.0 737.5C1079.7 747.0 1060.8 764.7 1049.5 772.5C1042.6 777.2 1039.2 779.3 1032.0 782.5C1021.6 787.0 1003.1 791.9 992.0 795.0C984.2 797.2 979.5 798.8 972.0 800.0C962.6 801.5 950.9 801.8 940.0 802.0C928.5 802.2 916.5 801.7 904.5 801.0C892.2 800.3 879.7 798.6 867.0 797.5C853.9 796.3 841.1 795.5 827.0 794.0C811.2 792.3 789.3 789.0 777.0 787.5C769.8 786.6 767.4 786.2 760.0 785.5C746.1 784.2 720.4 782.9 700.0 781.0C678.8 779.1 657.2 777.0 635.0 774.0C611.5 770.9 584.4 766.1 562.5 762.5C544.3 759.5 531.2 756.6 512.5 754.0C489.0 750.7 453.2 748.1 432.5 745.0C419.2 743.0 411.4 740.5 400.0 739.0C387.4 737.4 372.3 736.9 360.0 736.0C349.6 735.2 340.7 734.7 331.0 734.0C333.3 732.0 334.7 730.4 338.0 728.0C344.5 723.2 358.9 715.0 369.0 708.6C378.6 702.5 386.3 696.1 397.0 690.6C410.0 683.9 428.0 677.9 442.0 672.6C454.1 668.0 463.9 664.8 476.0 660.5C489.7 655.6 505.6 649.7 520.0 645.0C533.6 640.6 546.2 636.7 560.0 633.0C574.5 629.1 589.0 627.2 605.0 622.0C624.2 615.8 646.5 605.4 667.0 597.0C687.2 588.7 710.6 580.0 727.0 572.0C738.9 566.2 748.7 559.8 757.0 555.0C762.9 551.6 767.0 548.9 772.0 546.0C777.0 543.1 781.5 541.0 787.0 537.5C794.4 532.8 803.5 526.1 812.0 520.0C821.0 513.6 830.3 506.5 839.5 500.0C848.6 493.5 857.8 487.3 867.0 481.0C876.1 474.8 885.2 468.1 894.5 462.5C903.5 457.0 914.2 451.8 922.0 447.5C927.8 444.3 931.6 442.1 937.0 439.0C943.2 435.5 950.2 431.1 957.0 427.5C963.8 423.9 971.7 420.7 978.0 417.5C983.2 414.9 986.7 413.0 992.0 410.0C999.2 405.9 1009.7 399.0 1017.0 395.0C1022.6 391.9 1026.3 390.7 1032.0 387.5C1039.9 383.0 1049.9 374.8 1059.5 370.0C1069.0 365.3 1079.9 363.1 1089.5 359.0C1098.7 355.1 1107.6 349.7 1116.0 346.0C1123.3 342.7 1130.1 340.2 1137.0 337.5C1143.7 334.9 1149.0 332.5 1157.0 330.0C1168.5 326.4 1188.4 321.4 1199.5 319.0C1206.6 317.5 1210.8 316.8 1217.0 316.0C1223.9 315.1 1231.1 314.8 1239.0 314.0C1248.2 313.1 1259.4 311.2 1269.0 311.0C1277.7 310.8 1284.8 311.1 1294.0 312.5C1305.8 314.3 1321.9 318.6 1334.0 322.5C1344.6 325.9 1353.3 329.6 1363.0 334.0C1373.3 338.7 1384.4 344.7 1394.0 350.0C1402.6 354.7 1409.3 359.1 1418.0 364.0C1428.2 369.8 1440.4 376.4 1451.5 382.5C1462.4 388.4 1472.0 393.7 1484.0 400.0C1498.8 407.7 1517.2 417.3 1534.0 425.0C1550.5 432.6 1567.2 439.8 1584.0 446.0C1600.5 452.1 1617.2 457.5 1634.0 462.0C1650.6 466.5 1670.1 470.7 1684.0 473.0C1693.7 474.6 1700.7 475.0 1709.0 476.0" fill="none" stroke="#00ffff" stroke-width="4.8" stroke-linecap="round" stroke-dasharray="0.01 13.5 0.01 52.48" stroke-dashoffset="-41.5"/>
<path d="M1707.0 576.5C1616.0 576.8 1502.6 576.7 1434.0 577.5C1392.5 578.0 1361.6 578.0 1334.0 579.5C1314.5 580.6 1300.6 581.4 1284.0 584.0C1267.3 586.6 1246.2 591.5 1234.0 595.0C1226.8 597.1 1223.2 598.8 1217.0 601.0C1209.5 603.7 1200.2 606.5 1192.0 610.0C1183.6 613.6 1175.2 618.0 1167.0 622.5C1158.6 627.1 1150.3 632.3 1142.0 637.5C1133.6 642.8 1125.3 648.2 1117.0 654.0C1108.6 659.9 1100.3 666.1 1092.0 672.5C1083.6 679.0 1075.2 685.5 1067.0 692.5C1058.6 699.7 1050.3 707.5 1042.0 715.0C1033.7 722.5 1025.3 730.0 1017.0 737.5C1008.7 745.0 1000.3 752.5 992.0 760.0C983.7 767.5 975.4 775.3 967.0 782.5C958.8 789.5 950.3 795.8 942.0 802.5C933.7 809.2 925.5 816.3 917.0 822.5C908.8 828.5 900.4 833.9 892.0 839.0C883.8 843.9 875.4 848.3 867.0 852.5C858.7 856.6 850.4 860.6 842.0 864.0C833.8 867.3 825.4 870.0 817.0 872.5C808.7 875.0 800.4 877.5 792.0 879.0C783.7 880.5 776.3 881.6 767.0 881.5C755.2 881.4 739.0 878.3 727.0 876.5C717.1 875.1 709.7 873.8 700.0 872.0C688.5 869.8 674.6 866.9 662.6 864.0C651.3 861.2 640.8 858.1 630.0 855.0C619.3 851.9 608.6 848.8 598.0 845.5C587.3 842.2 576.7 838.4 566.0 835.0C555.3 831.6 544.8 828.3 534.0 825.0C522.9 821.6 512.5 818.4 500.0 815.0C485.0 810.8 466.7 806.1 450.0 802.0C433.4 797.9 418.1 794.6 400.0 790.5C378.6 785.7 353.3 780.2 330.0 775.0C336.7 768.3 342.8 761.5 350.0 755.0C357.7 748.1 366.6 741.3 375.0 735.0C383.2 728.8 391.5 722.6 400.0 717.5C408.2 712.6 416.6 708.8 425.0 705.0C433.3 701.3 440.2 698.7 450.0 695.0C463.8 689.8 483.3 682.9 500.0 677.5C516.6 672.1 533.4 667.9 550.0 662.5C566.7 657.1 581.6 651.4 600.0 645.0C622.5 637.2 652.6 627.1 675.0 619.0C693.4 612.3 709.1 606.1 725.0 600.0C739.6 594.4 752.6 590.5 767.0 584.0C783.2 576.7 800.5 566.8 817.0 557.5C833.8 548.0 850.2 537.1 867.0 527.5C883.6 518.0 900.2 508.6 917.0 500.0C933.5 491.5 950.2 483.5 967.0 476.0C983.6 468.5 1000.2 461.4 1017.0 455.0C1033.6 448.6 1050.3 442.9 1067.0 437.5C1083.6 432.1 1100.3 427.1 1117.0 422.5C1133.6 417.9 1150.3 413.6 1167.0 410.0C1183.6 406.4 1204.9 402.6 1217.0 401.0C1223.8 400.1 1227.0 400.4 1233.0 399.7C1240.6 398.8 1250.4 396.9 1259.0 396.0C1267.4 395.2 1275.7 394.7 1284.0 394.5C1292.3 394.3 1300.7 394.5 1309.0 395.0C1317.3 395.5 1325.7 396.5 1334.0 397.5C1342.3 398.5 1350.7 399.6 1359.0 401.0C1367.4 402.4 1374.3 403.9 1384.0 406.0C1397.8 409.0 1417.3 413.7 1434.0 417.5C1450.7 421.3 1467.3 425.2 1484.0 429.0C1500.7 432.7 1517.3 436.5 1534.0 440.0C1550.6 443.5 1567.3 446.8 1584.0 450.0C1600.7 453.2 1617.3 456.3 1634.0 459.0C1650.6 461.7 1670.5 464.5 1684.0 466.0C1693.1 467.0 1699.3 467.3 1707.0 468.0" fill="none" stroke="#ff00ff" stroke-width="7.6" stroke-linejoin="round" stroke-linecap="round"/>
<path d="M1709.0 467.0C1699.0 472.3 1689.3 477.9 1679.0 483.0C1668.3 488.3 1656.9 493.4 1646.0 498.0C1635.6 502.4 1625.5 506.7 1615.0 510.0C1604.5 513.3 1593.8 515.5 1583.0 518.0C1572.1 520.5 1560.9 522.5 1550.0 525.0C1539.1 527.5 1528.6 531.0 1517.5 533.0C1506.2 535.0 1495.1 535.2 1483.0 537.0C1469.4 539.0 1454.1 542.3 1440.0 545.0C1426.4 547.6 1414.1 550.2 1400.0 553.0C1384.3 556.1 1365.0 559.9 1350.0 563.0C1337.7 565.5 1327.3 567.5 1316.5 570.0C1306.2 572.4 1296.1 574.8 1286.5 577.5C1277.3 580.1 1268.7 582.8 1260.0 586.0C1251.2 589.3 1242.1 592.5 1234.0 597.0C1226.1 601.4 1220.0 607.3 1212.0 612.5C1202.9 618.4 1193.4 622.8 1182.0 630.0C1166.3 639.9 1145.9 655.5 1127.0 667.5C1107.6 679.7 1087.2 691.6 1067.0 702.5C1047.2 713.2 1024.5 725.0 1007.0 732.5C994.0 738.1 983.5 741.6 972.0 745.0C961.1 748.2 950.9 750.5 939.5 752.5C927.0 754.6 912.0 755.7 900.0 757.0C889.9 758.1 883.3 759.0 872.0 760.0C854.8 761.6 825.3 764.0 807.0 765.0C793.6 765.7 783.4 765.8 772.0 766.0C761.1 766.2 752.6 765.9 740.0 766.0C721.6 766.1 695.0 767.3 672.5 767.0C650.0 766.7 627.7 765.6 605.0 764.0C581.9 762.3 557.9 759.6 535.0 757.0C512.9 754.5 491.7 750.8 470.0 749.0C448.4 747.2 423.0 746.7 405.0 746.0C392.3 745.5 384.0 745.3 372.5 745.0C359.5 744.6 344.8 744.3 331.0 744.0C336.0 739.9 341.2 735.5 346.0 731.7C350.4 728.2 355.3 724.6 358.8 722.0C361.2 720.2 362.1 719.4 365.0 717.6C371.0 713.9 383.6 707.0 393.5 702.0C403.8 696.7 414.8 691.5 425.6 686.8C436.2 682.2 447.0 678.1 457.7 674.0C468.4 669.9 479.0 665.8 489.8 662.4C500.4 659.0 510.2 657.0 521.9 653.4C536.4 648.9 552.7 642.6 570.0 637.0C590.0 630.5 613.7 624.1 635.0 617.0C656.0 610.1 676.8 602.9 697.0 595.0C716.8 587.2 742.3 576.6 755.0 570.0C761.6 566.5 763.3 564.8 769.5 561.0C780.3 554.4 801.8 542.3 814.5 534.0C824.2 527.6 830.7 522.1 839.5 516.0C849.0 509.4 859.9 502.3 869.5 496.0C878.2 490.3 887.1 484.2 894.5 480.0C900.0 476.9 904.2 475.4 909.5 472.5C915.7 469.2 922.7 464.7 929.5 461.0C936.5 457.2 944.6 452.9 951.0 450.0C956.0 447.7 959.3 446.7 964.5 444.5C971.9 441.3 981.9 436.1 991.0 432.5C1000.2 428.8 1011.8 425.3 1019.5 422.5C1024.8 420.6 1028.0 419.3 1033.0 417.5C1039.3 415.2 1046.4 412.6 1054.5 410.0C1064.7 406.8 1078.6 403.5 1089.5 400.0C1099.3 396.8 1107.9 392.7 1117.0 390.0C1125.7 387.4 1135.7 385.9 1143.0 384.0C1148.4 382.6 1151.5 381.4 1157.0 380.0C1164.6 378.1 1175.3 376.1 1184.5 374.0C1193.7 371.9 1204.3 368.8 1212.0 367.5C1217.4 366.6 1222.0 366.3 1226.0 366.0C1229.0 365.7 1230.4 365.6 1234.0 365.5C1241.2 365.2 1254.4 364.5 1266.5 365.0C1281.9 365.6 1304.0 367.8 1319.0 370.0C1330.4 371.7 1338.6 373.6 1349.0 376.0C1360.3 378.6 1370.7 381.6 1384.0 385.0C1401.8 389.6 1429.9 396.2 1446.5 401.0C1457.6 404.2 1464.1 406.9 1474.0 410.0C1485.5 413.6 1499.7 417.7 1511.5 421.0C1522.0 424.0 1530.9 426.4 1541.5 429.0C1553.3 431.9 1564.8 434.3 1579.0 437.5C1597.7 441.8 1625.6 449.5 1644.0 452.5C1657.4 454.7 1668.8 454.5 1679.0 456.0C1686.9 457.1 1694.7 457.6 1700.0 460.0C1703.9 461.8 1706.0 464.7 1709.0 467.0" fill="none" stroke="#ff00ff" stroke-width="8" stroke-linecap="round" stroke-linejoin="round" stroke-dasharray="29 37" stroke-dashoffset="0"/>
<path d="M1709.0 467.0C1699.0 472.3 1689.3 477.9 1679.0 483.0C1668.3 488.3 1656.9 493.4 1646.0 498.0C1635.6 502.4 1625.5 506.7 1615.0 510.0C1604.5 513.3 1593.8 515.5 1583.0 518.0C1572.1 520.5 1560.9 522.5 1550.0 525.0C1539.1 527.5 1528.6 531.0 1517.5 533.0C1506.2 535.0 1495.1 535.2 1483.0 537.0C1469.4 539.0 1454.1 542.3 1440.0 545.0C1426.4 547.6 1414.1 550.2 1400.0 553.0C1384.3 556.1 1365.0 559.9 1350.0 563.0C1337.7 565.5 1327.3 567.5 1316.5 570.0C1306.2 572.4 1296.1 574.8 1286.5 577.5C1277.3 580.1 1268.7 582.8 1260.0 586.0C1251.2 589.3 1242.1 592.5 1234.0 597.0C1226.1 601.4 1220.0 607.3 1212.0 612.5C1202.9 618.4 1193.4 622.8 1182.0 630.0C1166.3 639.9 1145.9 655.5 1127.0 667.5C1107.6 679.7 1087.2 691.6 1067.0 702.5C1047.2 713.2 1024.5 725.0 1007.0 732.5C994.0 738.1 983.5 741.6 972.0 745.0C961.1 748.2 950.9 750.5 939.5 752.5C927.0 754.6 912.0 755.7 900.0 757.0C889.9 758.1 883.3 759.0 872.0 760.0C854.8 761.6 825.3 764.0 807.0 765.0C793.6 765.7 783.4 765.8 772.0 766.0C761.1 766.2 752.6 765.9 740.0 766.0C721.6 766.1 695.0 767.3 672.5 767.0C650.0 766.7 627.7 765.6 605.0 764.0C581.9 762.3 557.9 759.6 535.0 757.0C512.9 754.5 491.7 750.8 470.0 749.0C448.4 747.2 423.0 746.7 405.0 746.0C392.3 745.5 384.0 745.3 372.5 745.0C359.5 744.6 344.8 744.3 331.0 744.0C336.0 739.9 341.2 735.5 346.0 731.7C350.4 728.2 355.3 724.6 358.8 722.0C361.2 720.2 362.1 719.4 365.0 717.6C371.0 713.9 383.6 707.0 393.5 702.0C403.8 696.7 414.8 691.5 425.6 686.8C436.2 682.2 447.0 678.1 457.7 674.0C468.4 669.9 479.0 665.8 489.8 662.4C500.4 659.0 510.2 657.0 521.9 653.4C536.4 648.9 552.7 642.6 570.0 637.0C590.0 630.5 613.7 624.1 635.0 617.0C656.0 610.1 676.8 602.9 697.0 595.0C716.8 587.2 742.3 576.6 755.0 570.0C761.6 566.5 763.3 564.8 769.5 561.0C780.3 554.4 801.8 542.3 814.5 534.0C824.2 527.6 830.7 522.1 839.5 516.0C849.0 509.4 859.9 502.3 869.5 496.0C878.2 490.3 887.1 484.2 894.5 480.0C900.0 476.9 904.2 475.4 909.5 472.5C915.7 469.2 922.7 464.7 929.5 461.0C936.5 457.2 944.6 452.9 951.0 450.0C956.0 447.7 959.3 446.7 964.5 444.5C971.9 441.3 981.9 436.1 991.0 432.5C1000.2 428.8 1011.8 425.3 1019.5 422.5C1024.8 420.6 1028.0 419.3 1033.0 417.5C1039.3 415.2 1046.4 412.6 1054.5 410.0C1064.7 406.8 1078.6 403.5 1089.5 400.0C1099.3 396.8 1107.9 392.7 1117.0 390.0C1125.7 387.4 1135.7 385.9 1143.0 384.0C1148.4 382.6 1151.5 381.4 1157.0 380.0C1164.6 378.1 1175.3 376.1 1184.5 374.0C1193.7 371.9 1204.3 368.8 1212.0 367.5C1217.4 366.6 1222.0 366.3 1226.0 366.0C1229.0 365.7 1230.4 365.6 1234.0 365.5C1241.2 365.2 1254.4 364.5 1266.5 365.0C1281.9 365.6 1304.0 367.8 1319.0 370.0C1330.4 371.7 1338.6 373.6 1349.0 376.0C1360.3 378.6 1370.7 381.6 1384.0 385.0C1401.8 389.6 1429.9 396.2 1446.5 401.0C1457.6 404.2 1464.1 406.9 1474.0 410.0C1485.5 413.6 1499.7 417.7 1511.5 421.0C1522.0 424.0 1530.9 426.4 1541.5 429.0C1553.3 431.9 1564.8 434.3 1579.0 437.5C1597.7 441.8 1625.6 449.5 1644.0 452.5C1657.4 454.7 1668.8 454.5 1679.0 456.0C1686.9 457.1 1694.7 457.6 1700.0 460.0C1703.9 461.8 1706.0 464.7 1709.0 467.0" fill="none" stroke="#ff00ff" stroke-width="4.8" stroke-linecap="round" stroke-dasharray="0.01 13.5 0.01 52.48" stroke-dashoffset="-41.5"/>
<path d="M331.0 660.0h0M336.4 652.6h0M341.8 649.1h0M347.1 646.4h0M352.4 643.6h0M357.6 640.8h0M362.8 638.2h0M368.1 635.6h0M373.6 633.1h0M379.0 630.9h0M384.2 628.8h0M389.6 626.8h0M395.0 624.9h0M400.2 623.1h0M405.5 621.3h0M410.8 619.6h0M416.2 617.8h0M421.4 616.2h0M426.7 614.5h0M432.0 612.9h0M437.4 611.3h0M442.7 609.7h0M448.1 608.1h0M453.5 606.4h0M458.9 604.8h0M464.3 603.2h0M469.7 601.6h0M475.1 600.0h0M480.4 598.5h0M485.7 596.9h0M491.1 595.3h0M496.5 593.6h0M501.7 591.9h0M507.0 590.3h0M512.3 588.6h0M517.5 586.9h0M522.9 584.9h0M528.2 582.6h0M533.6 579.9h0M538.9 577.1h0M544.2 574.1h0M549.6 571.2h0M554.9 568.4h0M560.3 565.7h0M565.7 562.9h0M571.0 559.9h0M576.3 556.7h0M581.5 553.3h0M586.8 549.7h0M592.2 545.8h0M597.5 541.9h0M602.9 537.8h0M608.2 533.8h0M613.6 529.6h0M618.9 525.3h0M624.2 520.7h0M629.5 515.9h0M634.7 510.9h0M640.1 505.5h0M645.3 500.0h0M650.7 494.2h0M656.0 488.1h0M661.3 481.5h0M666.6 475.0h0M671.8 468.6h0M677.2 462.7h0M682.5 457.3h0M687.8 452.2h0M693.1 446.9h0M698.5 441.5h0M703.7 436.3h0M709.0 430.9h0M714.2 425.4h0M719.5 420.1h0M724.8 415.2h0M730.0 410.8h0M735.4 406.6h0M740.6 402.8h0M745.9 398.9h0M751.3 395.1h0M756.5 391.2h0M761.9 387.3h0M767.2 383.9h0M772.4 380.9h0M777.7 378.2h0M783.0 375.9h0M788.4 373.8h0M793.7 372.0h0M799.2 370.3h0M804.6 368.9h0M809.8 367.7h0M815.2 366.5h0M820.6 365.5h0M826.0 364.6h0M831.3 363.7h0M836.7 363.0h0M842.0 362.4h0M847.4 361.9h0M852.8 361.6h0M858.0 361.3h0M863.4 361.1h0M868.8 361.0h0M874.2 360.9h0M879.5 360.9h0M885.0 361.0h0M890.3 361.2h0M895.7 361.3h0M901.0 361.6h0M906.4 361.9h0M911.7 362.2h0M917.0 362.5h0M922.3 362.9h0M927.5 363.3h0M932.8 363.7h0M938.0 364.2h0M943.3 364.8h0M948.5 365.3h0M953.8 365.9h0M959.0 366.5h0M964.3 367.2h0M969.5 367.8h0M974.8 368.6h0M980.0 369.3h0M985.3 370.1h0M990.5 371.0h0M995.7 371.8h0M1001.0 372.6h0M1006.2 373.5h0M1011.5 374.2h0M1016.7 375.0h0M1022.0 375.7h0M1027.4 376.4h0M1032.7 377.0h0M1038.1 377.7h0M1043.5 378.3h0M1048.8 378.9h0M1054.0 379.4h0M1059.3 379.9h0M1064.7 380.3h0M1070.1 380.7h0M1075.3 381.0h0M1080.7 381.2h0M1086.1 381.4h0M1091.3 381.4h0M1096.6 381.4h0M1102.0 381.1h0M1107.2 380.7h0M1112.5 380.2h0M1117.7 379.5h0M1123.0 378.7h0M1128.3 377.8h0M1133.5 376.7h0M1138.8 375.7h0M1144.0 374.5h0M1149.2 373.3h0M1154.6 371.9h0M1160.0 370.4h0M1165.5 368.9h0M1170.9 367.4h0M1176.3 365.9h0M1181.5 364.5h0M1186.8 363.1h0M1192.0 361.8h0M1197.2 360.4h0M1202.6 359.0h0M1207.9 357.6h0M1213.3 356.1h0M1218.7 354.5h0M1224.0 352.8h0M1229.3 350.8h0M1234.7 348.7h0M1239.9 346.6h0M1245.4 344.4h0M1250.6 342.2h0M1256.0 339.9h0M1261.3 337.6h0M1266.7 335.3h0M1272.1 332.9h0M1277.4 330.5h0M1282.6 328.1h0M1287.9 325.7h0M1293.1 323.2h0M1298.4 320.7h0M1303.6 318.2h0M1308.9 315.6h0M1314.1 313.0h0M1319.3 310.3h0M1324.6 307.6h0M1329.9 304.7h0M1335.4 301.7h0M1340.8 298.7h0M1346.1 295.7h0M1351.4 292.5h0M1356.7 289.3h0M1361.9 286.1h0M1367.1 282.8h0M1372.4 279.4h0M1377.6 276.1h0M1382.8 272.8h0M1388.1 269.3h0M1393.4 265.8h0M1398.7 262.2h0M1404.1 258.5h0M1409.4 254.7h0M1414.7 250.8h0M1419.9 246.7h0M1425.1 242.4h0M1430.4 238.1h0M1435.6 233.6h0M1440.9 229.0h0M1446.1 224.2h0M1451.4 219.4h0M1456.6 214.6h0M1461.9 209.9h0M1467.3 205.2h0M1472.6 200.6h0M1477.9 196.0h0M1483.2 191.7h0M1488.5 187.2h0M1493.8 182.7h0M1499.2 178.7h0M1504.5 175.8h0M1509.9 173.8h0M1515.1 172.7h0M1520.5 172.5h0M1525.9 173.4h0M1531.3 175.7h0M1536.6 179.8h0M1541.9 185.9h0M1547.2 193.6h0M1552.4 202.3h0M1557.4 211.8h0M1562.1 221.4h0M1566.4 231.1h0M1570.8 240.9h0M1575.2 250.5h0M1579.7 260.2h0M1584.0 270.0h0M1587.9 279.9h0M1591.7 289.8h0M1595.4 299.7h0M1599.3 309.4h0M1603.4 319.3h0M1607.5 329.1h0M1611.8 338.8h0M1616.1 348.5h0M1620.6 358.1h0M1625.1 367.6h0M1629.8 377.1h0M1634.9 386.5h0M1640.1 395.3h0M1645.5 403.5h0M1650.8 411.5h0M1656.0 419.0h0M1661.4 424.8h0M1666.7 429.1h0M1671.9 432.8h0M1677.2 436.6h0M1682.6 440.1h0M1688.0 443.3h0M1693.3 446.1h0M1698.8 448.9h0M1704.0 451.3h0M1707.0 459.7h0M1703.0 469.5h0M1697.7 478.3h0M1692.8 487.8h0M1687.5 496.0h0M1682.3 502.4h0M1677.0 508.1h0M1671.6 513.2h0M1666.4 517.7h0M1661.2 521.6h0M1655.8 525.4h0M1650.4 529.1h0M1645.1 532.5h0M1639.9 535.7h0M1634.6 538.9h0M1629.3 542.0h0M1623.9 544.9h0M1618.6 548.2h0M1613.3 552.0h0M1608.0 556.0h0M1602.6 560.3h0M1597.2 564.8h0M1591.9 568.7h0M1586.5 573.4h0M1581.1 578.8h0M1575.8 584.2h0M1570.6 590.0h0M1565.3 596.3h0M1559.9 603.0h0M1554.7 609.9h0M1549.4 617.2h0M1544.0 624.2h0M1538.7 631.2h0M1533.4 638.3h0M1528.1 645.8h0M1522.8 653.9h0M1517.5 663.0h0M1512.7 672.6h0M1508.2 682.1h0M1503.9 691.9h0M1499.6 701.6h0M1495.4 711.3h0M1492.1 721.4h0M1489.2 731.7h0M1486.6 742.0h0M1484.1 752.2h0M1481.5 762.5h0M1478.9 772.8h0M1476.4 783.0h0M1473.8 793.3h0M1470.7 803.5h0M1467.7 813.7h0M1465.1 824.0h0M1462.6 834.3h0M1460.0 844.5h0M1457.4 854.8h0M1455.0 865.0h0M1452.2 875.3h0M1449.0 885.4h0M1445.4 895.3h0M1441.5 905.1h0M1436.4 914.5h0M1431.2 920.1h0M1425.9 920.8h0M1420.7 919.7h0M1415.4 917.2h0M1410.1 913.4h0M1404.7 908.4h0M1399.4 902.3h0M1394.1 896.3h0M1388.7 890.4h0M1383.5 884.4h0M1378.2 878.3h0M1372.9 872.0h0M1367.5 865.8h0M1362.2 859.4h0M1357.0 853.1h0M1351.7 846.8h0M1346.4 840.5h0M1341.1 834.6h0M1335.8 828.9h0M1330.4 823.6h0M1325.1 818.8h0M1319.9 814.3h0M1314.6 810.1h0M1309.3 805.9h0M1303.9 801.8h0M1298.6 797.8h0M1293.3 793.7h0M1288.0 789.9h0M1282.7 786.8h0M1277.4 784.0h0M1272.1 781.5h0M1266.8 779.2h0M1261.4 777.0h0M1256.2 774.9h0M1251.0 772.9h0M1245.7 771.0h0M1240.5 769.3h0M1235.2 767.8h0M1229.8 766.5h0M1224.4 765.3h0M1219.0 764.2h0M1213.7 763.2h0M1208.3 762.3h0M1203.1 761.5h0M1197.8 760.7h0M1192.5 760.1h0M1187.2 759.5h0M1181.9 759.1h0M1176.5 758.7h0M1171.1 758.4h0M1165.8 758.2h0M1160.5 758.0h0M1155.1 757.9h0M1149.8 757.7h0M1144.5 757.6h0M1139.2 757.4h0M1134.0 757.3h0M1128.7 757.2h0M1123.5 757.2h0M1118.3 757.1h0M1113.1 757.1h0M1107.9 757.1h0M1102.5 757.0h0M1097.3 757.0h0M1092.0 757.0h0M1086.7 757.0h0M1081.5 757.0h0M1076.1 756.9h0M1070.9 756.9h0M1065.7 756.9h0M1060.5 756.9h0M1055.3 756.9h0M1050.0 757.0h0M1044.8 757.0h0M1039.4 757.0h0M1034.1 757.0h0M1028.8 757.1h0M1023.5 757.1h0M1018.2 757.1h0M1012.8 757.1h0M1007.4 757.2h0M1002.0 757.2h0M996.7 757.4h0M991.2 757.5h0M985.9 757.7h0M980.5 758.0h0M975.2 758.4h0M969.8 758.8h0M964.4 759.2h0M959.2 759.5h0M954.0 759.8h0M948.8 760.2h0M943.6 760.8h0M938.3 761.6h0M933.1 762.6h0M927.9 763.6h0M922.4 764.8h0M917.0 766.0h0M911.5 767.1h0M906.3 768.1h0M901.1 769.1h0M895.9 770.1h0M890.7 771.3h0M885.5 772.6h0M880.2 773.9h0M874.8 775.4h0M869.3 776.9h0M863.9 778.3h0M858.7 779.6h0M853.5 780.9h0M848.2 782.2h0M843.0 783.7h0M837.7 785.4h0M832.4 787.2h0M827.1 789.0h0M821.8 790.9h0M816.5 792.6h0M811.2 794.2h0M805.9 795.5h0M800.6 797.0h0M795.3 798.7h0M789.9 801.0h0M784.5 804.0h0M779.1 807.3h0M773.7 810.8h0M768.4 814.2h0M763.0 817.3h0M757.8 819.9h0M752.4 822.0h0M747.0 823.8h0M741.7 825.4h0M736.5 827.0h0M731.1 828.6h0M725.7 830.7h0M720.4 833.0h0M715.2 835.3h0M709.7 837.6h0M704.5 839.8h0M699.3 842.1h0M694.0 844.3h0M688.7 846.5h0M683.5 848.7h0M678.3 850.8h0M673.0 852.9h0M667.8 854.8h0M662.5 856.7h0M657.3 858.5h0M652.0 860.3h0M646.7 862.1h0M641.5 863.9h0M636.3 865.6h0M631.0 867.2h0M625.7 868.5h0M620.3 869.4h0M615.0 870.4h0M609.7 871.0h0M604.2 871.1h0M598.8 870.9h0M593.5 870.5h0M588.2 869.7h0M583.0 868.4h0M577.7 866.8h0M572.4 865.1h0M567.2 862.5h0M561.9 858.9h0M556.6 854.7h0M551.3 850.1h0M545.9 845.8h0M540.6 839.7h0M535.3 833.8h0M530.0 829.0h0M524.7 822.8h0M519.3 815.8h0M514.0 807.8h0M508.8 798.9h0M503.4 790.3h0M498.1 783.4h0M492.9 774.5h0M487.6 765.3h0M482.3 757.3h0M477.1 750.5h0M471.9 742.7h0M466.5 735.6h0M461.3 729.6h0M456.0 724.0h0M450.6 717.7h0M445.4 712.8h0M440.0 708.0h0M434.8 702.3h0M429.6 698.2h0M424.3 694.5h0M419.0 691.4h0M413.8 688.2h0M408.5 684.6h0M403.1 681.6h0M397.8 679.5h0M392.6 677.7h0M387.3 675.8h0M382.0 673.9h0M376.7 671.8h0M371.5 669.8h0M366.3 667.9h0M360.9 666.3h0M355.7 664.9h0M350.3 663.6h0M345.0 662.5h0M339.7 661.8h0M334.5 661.1h0" fill="none" stroke="#bebebe" stroke-width="6.2" stroke-linecap="round"/>
<polygon points="895.0,711.0 927.8,750.8 942.6,730.7" fill="#000"/>
<line x1="933.6" y1="739.5" x2="1378.7" y2="1068.3" stroke="#000" stroke-width="7.8"/>
<polygon points="727.5,846.0 759.9,886.1 774.9,866.2" fill="#000"/>
<line x1="765.8" y1="874.9" x2="1312.0" y2="1287.7" stroke="#000" stroke-width="7.8"/>
<polygon points="1487.1,724.3 1504.9,771.0 1524.6,757.3" fill="#000"/>
<line x1="1551.0" y1="816.5" x2="1513.6" y2="762.5" stroke="#000" stroke-width="6.8" stroke-dasharray="17.5 12.5"/>
<rect x="195" y="53" width="1649" height="1312" fill="none" stroke="#000" stroke-width="6"/>
<path d="M332.0 1365 V1339 M470.0 1365 V1352 M607.0 1365 V1339 M744.0 1365 V1352 M882.0 1365 V1339 M1020.0 1365 V1352 M1157.0 1365 V1339 M1294.0 1365 V1352 M1432.0 1365 V1339 M1570.0 1365 V1352 M1707.0 1365 V1339 M195 1234.0 H208 M195 1103.0 H221 M195 971.0 H208 M195 840.0 H221 M195 709.0 H208 M195 578.0 H221 M195 447.0 H208 M195 315.0 H221 M195 184.0 H208" stroke="#000" stroke-width="6" fill="none"/>
<text x="324.0" y="1441.6" font-size="64" text-anchor="middle"><tspan stroke="#000" stroke-width="1.6" dy="-1">−</tspan><tspan dy="1">0.2</tspan></text>
<text x="607.0" y="1441.6" font-size="64" text-anchor="middle"><tspan>0.0</tspan></text>
<text x="882.0" y="1441.6" font-size="64" text-anchor="middle"><tspan>0.2</tspan></text>
<text x="1157.0" y="1441.6" font-size="64" text-anchor="middle"><tspan>0.4</tspan></text>
<text x="1432.0" y="1441.6" font-size="64" text-anchor="middle"><tspan>0.6</tspan></text>
<text x="1707.0" y="1441.6" font-size="64" text-anchor="middle"><tspan>0.8</tspan></text>
<text x="166" y="1382.8" font-size="64" text-anchor="end"><tspan stroke="#000" stroke-width="1.6" dy="2.9">−</tspan><tspan dy="-2.9">3</tspan></text>
<text x="166" y="1120.8" font-size="64" text-anchor="end"><tspan stroke="#000" stroke-width="1.6" dy="2.9">−</tspan><tspan dy="-2.9">2</tspan></text>
<text x="166" y="857.8" font-size="64" text-anchor="end"><tspan stroke="#000" stroke-width="1.6" dy="2.9">−</tspan><tspan dy="-2.9">1</tspan></text>
<text x="166" y="595.8" font-size="64" text-anchor="end"><tspan>0</tspan></text>
<text x="166" y="332.8" font-size="64" text-anchor="end"><tspan>1</tspan></text>
<text x="166" y="70.8" font-size="64" text-anchor="end"><tspan>2</tspan></text>
<text x="1012" y="1550" font-size="69" text-anchor="middle">E vs. (Ag/AgCl), V</text>
<text transform="translate(83,710) rotate(-90)" font-size="68.6" text-anchor="middle">Current density, mA/cm<tspan font-size="46" dy="-28">2</tspan></text>
<text x="1337" y="1127.7" font-size="62">stable CV Au<tspan font-size="43" dy="12.3" dx="2">1-6</tspan></text>
<text x="1181" y="1328.7" font-size="62">reduction CV Au<tspan font-size="43" dy="12.3" dx="2">1-6</tspan></text>
<text x="1459" y="881" font-size="62" font-style="italic" letter-spacing="0.4">original PANI</text>
</svg>
</body></html>
